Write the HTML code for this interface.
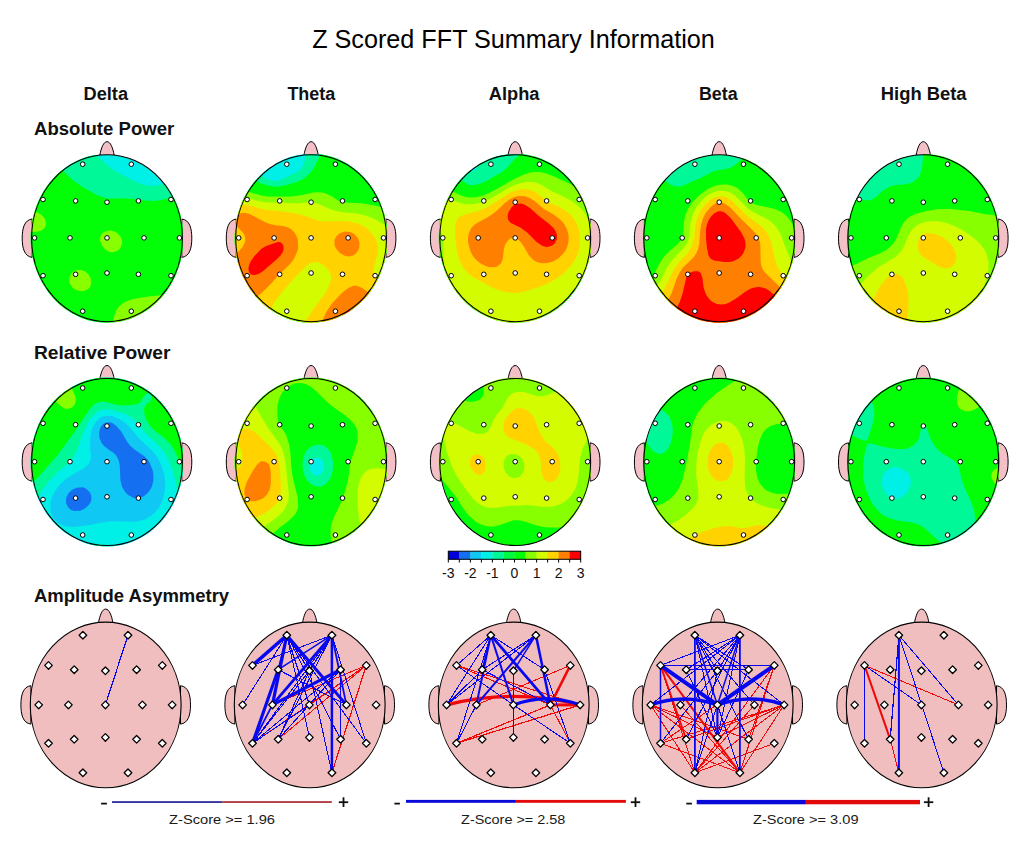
<!DOCTYPE html>
<html><head><meta charset="utf-8"><title>Z Scored FFT Summary Information</title>
<style>html,body{margin:0;padding:0;background:#fff;width:1031px;height:847px;overflow:hidden}svg{display:block}</style>
</head><body>
<svg width="1031" height="847" viewBox="0 0 1031 847">
<rect width="1031" height="847" fill="#fff"/>
<text x="312.2" y="47.6" font-family="Liberation Sans, sans-serif" font-size="25" textLength="402.6" lengthAdjust="spacingAndGlyphs" fill="#000">Z Scored FFT Summary Information</text>
<text x="83.5" y="99.8" font-family="Liberation Sans, sans-serif" font-weight="bold" font-size="18" textLength="44.5" lengthAdjust="spacingAndGlyphs" fill="#111">Delta</text>
<text x="287.4" y="99.8" font-family="Liberation Sans, sans-serif" font-weight="bold" font-size="18" textLength="47.9" lengthAdjust="spacingAndGlyphs" fill="#111">Theta</text>
<text x="488.8" y="99.8" font-family="Liberation Sans, sans-serif" font-weight="bold" font-size="18" textLength="50.7" lengthAdjust="spacingAndGlyphs" fill="#111">Alpha</text>
<text x="698.9" y="99.8" font-family="Liberation Sans, sans-serif" font-weight="bold" font-size="18" textLength="38.7" lengthAdjust="spacingAndGlyphs" fill="#111">Beta</text>
<text x="880.8" y="99.8" font-family="Liberation Sans, sans-serif" font-weight="bold" font-size="18" textLength="85.8" lengthAdjust="spacingAndGlyphs" fill="#111">High Beta</text>
<text x="34" y="135.2" font-family="Liberation Sans, sans-serif" font-weight="bold" font-size="18" textLength="140.2" lengthAdjust="spacingAndGlyphs" fill="#111">Absolute Power</text>
<text x="33.9" y="358.9" font-family="Liberation Sans, sans-serif" font-weight="bold" font-size="18" textLength="136.5" lengthAdjust="spacingAndGlyphs" fill="#111">Relative Power</text>
<text x="33.9" y="602.4" font-family="Liberation Sans, sans-serif" font-weight="bold" font-size="18" textLength="195.2" lengthAdjust="spacingAndGlyphs" fill="#111">Amplitude Asymmetry</text>
<path d="M99.7,155.7 C101.2,147.7 103.5,141.7 107.0,141.7 C110.5,141.7 112.8,147.7 114.3,155.7Z" fill="#f2c0c6" stroke="#000" stroke-width="1"/>
<path d="M32.2,219.0 C24.2,220.0 22.2,228.6 22.2,238.2 C22.2,247.8 24.2,256.4 32.2,257.4Z" fill="#f2c0c6" stroke="#000" stroke-width="1"/>
<path d="M181.8,219.0 C189.8,220.0 191.8,228.6 191.8,238.2 C191.8,247.8 189.8,256.4 181.8,257.4Z" fill="#f2c0c6" stroke="#000" stroke-width="1"/>
<ellipse cx="107.0" cy="238.2" rx="75.4" ry="83.5" fill="#00f0e8"/>
<path fill="#00f898" fill-rule="evenodd" d="M94.4,154.9 87.4,156.5 80.8,158.9 72.4,162.9 66.1,166.9 60.1,171.5 55.1,176.2 48.8,183.5 44.8,189.2 41.4,194.9 37.8,202.5 34.4,211.9 32.4,219.9 30.8,232.9 30.8,243.5 31.1,243.9 31.4,250.5 34.4,264.5 37.8,273.9 41.4,281.5 48.8,292.9 55.1,300.2 60.1,304.9 66.1,309.5 72.4,313.5 80.8,317.5 87.4,319.9 94.4,321.5 102.4,322.5 115.1,322.2 122.8,320.9 132.4,317.9 142.8,312.9 149.8,308.2 155.4,303.5 160.8,298.2 167.4,289.9 172.8,281.2 176.1,274.2 179.8,263.9 181.4,257.2 183.1,245.5 182.8,227.5 181.8,220.9 179.8,212.5 176.1,202.2 171.4,192.9 165.1,183.5 157.8,185.5 149.4,185.9 143.1,184.5 136.8,182.2 124.1,175.9 113.8,169.9 105.8,163.9 96.4,155.2Z"/>
<path fill="#02ff08" fill-rule="evenodd" d="M61.8,170.2 56.4,174.9 51.8,179.9 46.1,187.2 42.8,192.5 38.8,200.2 36.4,205.9 32.4,219.9 30.8,232.9 30.8,243.5 31.8,252.9 33.8,262.2 36.4,270.5 41.4,281.5 48.8,292.9 55.1,300.2 60.1,304.9 66.1,309.5 72.4,313.5 82.4,318.2 87.4,319.9 96.4,321.9 102.4,322.5 111.8,322.5 119.4,321.5 125.4,320.2 132.4,317.9 139.8,314.5 147.4,309.9 153.1,305.5 160.8,298.2 164.4,293.9 169.4,286.9 172.8,281.2 176.1,274.2 179.8,263.9 181.4,257.2 182.8,248.9 183.1,230.9 181.8,220.9 179.8,212.5 177.4,205.5 173.8,197.5 170.1,197.9 160.1,200.2 153.4,200.9 145.4,200.5 137.8,199.2 126.4,198.5 126.1,198.2 108.8,198.5 104.8,197.9 96.8,194.9 81.8,186.5 72.8,180.2 63.1,170.9Z"/>
<path fill="#88ff00" fill-rule="evenodd" d="M163.4,294.9 150.4,296.2 137.1,298.2 131.1,299.5 124.4,302.2 121.4,304.2 118.4,307.2 116.4,310.2 114.8,313.9 112.4,322.2 117.4,321.9 125.4,320.2 132.4,317.9 139.8,314.5 151.1,307.2 155.4,303.5 160.8,298.2ZM73.4,271.5 70.8,274.2 69.4,277.5 69.4,282.2 71.4,286.5 74.4,289.2 78.8,290.9 83.8,290.9 87.8,289.2 89.8,287.2 91.1,284.2 90.8,278.5 88.1,273.9 84.8,271.2 81.1,269.9 77.4,269.9ZM105.8,231.2 102.4,233.2 100.8,235.5 100.1,237.5 100.1,240.9 102.1,245.9 105.8,249.9 109.8,251.9 113.4,252.2 117.8,250.5 120.4,247.9 122.1,243.5 122.1,240.5 120.8,236.9 117.4,233.2 114.4,231.5 110.4,230.5ZM35.4,211.5 34.4,211.9 32.4,219.9 31.4,225.9 31.1,231.9 38.1,231.5 41.4,230.5 44.4,228.2 45.8,225.2 45.8,221.9 45.1,219.5 43.8,217.2 40.8,214.2Z"/>
<ellipse cx="107.0" cy="238.2" rx="75.4" ry="83.5" fill="none" stroke="#000" stroke-width="1.1"/>
<circle cx="82.7" cy="164.2" r="2.3" fill="#fff" stroke="#000" stroke-width="1"/>
<circle cx="131.3" cy="164.2" r="2.3" fill="#fff" stroke="#000" stroke-width="1"/>
<circle cx="43.0" cy="199.5" r="2.3" fill="#fff" stroke="#000" stroke-width="1"/>
<circle cx="75.6" cy="200.9" r="2.3" fill="#fff" stroke="#000" stroke-width="1"/>
<circle cx="107.0" cy="202.2" r="2.3" fill="#fff" stroke="#000" stroke-width="1"/>
<circle cx="138.4" cy="200.9" r="2.3" fill="#fff" stroke="#000" stroke-width="1"/>
<circle cx="171.0" cy="199.5" r="2.3" fill="#fff" stroke="#000" stroke-width="1"/>
<circle cx="34.6" cy="237.9" r="2.3" fill="#fff" stroke="#000" stroke-width="1"/>
<circle cx="70.0" cy="237.9" r="2.3" fill="#fff" stroke="#000" stroke-width="1"/>
<circle cx="107.0" cy="237.9" r="2.3" fill="#fff" stroke="#000" stroke-width="1"/>
<circle cx="144.0" cy="237.9" r="2.3" fill="#fff" stroke="#000" stroke-width="1"/>
<circle cx="179.4" cy="237.9" r="2.3" fill="#fff" stroke="#000" stroke-width="1"/>
<circle cx="43.0" cy="275.7" r="2.3" fill="#fff" stroke="#000" stroke-width="1"/>
<circle cx="75.6" cy="274.3" r="2.3" fill="#fff" stroke="#000" stroke-width="1"/>
<circle cx="107.0" cy="273.0" r="2.3" fill="#fff" stroke="#000" stroke-width="1"/>
<circle cx="138.4" cy="274.3" r="2.3" fill="#fff" stroke="#000" stroke-width="1"/>
<circle cx="171.0" cy="275.7" r="2.3" fill="#fff" stroke="#000" stroke-width="1"/>
<circle cx="82.7" cy="311.2" r="2.3" fill="#fff" stroke="#000" stroke-width="1"/>
<circle cx="131.3" cy="311.2" r="2.3" fill="#fff" stroke="#000" stroke-width="1"/>
<path d="M303.8,155.7 C305.3,147.7 307.6,141.7 311.1,141.7 C314.6,141.7 316.9,147.7 318.4,155.7Z" fill="#f2c0c6" stroke="#000" stroke-width="1"/>
<path d="M236.3,219.0 C228.3,220.0 226.3,228.6 226.3,238.2 C226.3,247.8 228.3,256.4 236.3,257.4Z" fill="#f2c0c6" stroke="#000" stroke-width="1"/>
<path d="M385.9,219.0 C393.9,220.0 395.9,228.6 395.9,238.2 C395.9,247.8 393.9,256.4 385.9,257.4Z" fill="#f2c0c6" stroke="#000" stroke-width="1"/>
<ellipse cx="311.1" cy="238.2" rx="75.4" ry="83.5" fill="#10c8f4"/>
<path fill="#00f0e8" fill-rule="evenodd" d="M306.5,153.9 298.5,154.9 291.5,156.5 284.8,158.9 276.5,162.9 275.2,163.9 274.5,165.9 272.8,167.2 270.2,166.9 264.2,171.5 259.2,176.2 252.8,183.5 245.5,194.9 241.8,202.5 238.5,211.9 235.5,225.9 235.2,232.5 234.8,232.9 234.8,243.5 235.8,252.9 237.2,259.5 240.5,270.5 242.8,276.2 250.2,289.2 255.8,296.5 260.5,301.5 267.8,307.9 273.2,311.5 286.5,318.2 291.5,319.9 300.5,321.9 306.5,322.5 315.8,322.5 323.5,321.5 329.5,320.2 336.5,317.9 343.8,314.5 351.5,309.9 357.2,305.5 364.8,298.2 368.5,293.9 373.5,286.9 376.8,281.2 380.2,274.2 383.8,263.9 385.5,257.2 386.8,248.9 387.2,230.9 385.8,220.9 383.8,212.5 378.8,199.2 371.5,186.5 364.8,178.2 359.5,172.9 353.8,168.2 346.8,163.5 336.5,158.5 329.5,156.2 321.5,154.5 315.8,153.9Z"/>
<path fill="#00f898" fill-rule="evenodd" d="M306.8,153.9 304.2,162.9 302.2,167.2 300.5,169.5 297.5,172.2 289.8,175.2 281.2,179.9 277.5,180.9 273.5,180.9 268.8,179.5 264.5,177.5 260.5,174.9 254.2,181.9 250.2,187.2 245.5,194.9 241.8,202.5 238.5,211.9 235.5,225.9 235.2,232.5 234.8,232.9 234.8,243.5 235.8,252.9 237.2,259.5 240.5,270.5 242.8,276.2 250.2,289.2 255.8,296.5 260.5,301.5 267.8,307.9 273.2,311.5 286.5,318.2 291.5,319.9 300.5,321.9 306.5,322.5 315.8,322.5 323.5,321.5 329.5,320.2 336.5,317.9 343.8,314.5 351.5,309.9 357.2,305.5 364.8,298.2 368.5,293.9 373.5,286.9 376.8,281.2 380.2,274.2 383.8,263.9 385.5,257.2 386.8,248.9 387.2,230.9 385.8,220.9 383.8,212.5 378.8,199.2 371.5,186.5 364.8,178.2 359.5,172.9 353.8,168.2 346.8,163.5 336.5,158.5 329.5,156.2 321.5,154.5 315.8,153.9Z"/>
<path fill="#02ff08" fill-rule="evenodd" d="M321.5,154.5 320.2,154.9 314.8,166.2 310.8,172.2 304.2,178.2 296.8,181.9 282.8,185.9 277.8,186.5 273.5,186.5 267.5,185.5 260.8,183.2 255.5,180.5 248.8,189.2 242.8,200.2 238.5,211.9 235.5,225.9 235.2,232.5 234.8,232.9 234.8,243.5 235.8,252.9 237.2,259.5 240.5,270.5 242.8,276.2 250.2,289.2 255.8,296.5 260.5,301.5 267.8,307.9 273.2,311.5 286.5,318.2 296.8,321.2 302.8,322.2 315.8,322.5 323.5,321.5 329.5,320.2 336.5,317.9 343.8,314.5 351.5,309.9 359.5,303.5 368.5,293.9 373.5,286.9 376.8,281.2 380.2,274.2 383.8,263.9 385.5,257.2 386.8,248.9 387.2,230.9 385.5,219.2 383.8,212.5 380.2,202.2 376.8,195.2 371.5,186.5 364.8,178.2 359.5,172.9 349.5,165.2 343.8,161.9 336.5,158.5 329.5,156.2Z"/>
<path fill="#88ff00" fill-rule="evenodd" d="M247.5,191.5 242.8,200.2 240.5,205.9 236.5,219.9 234.8,232.9 234.8,243.5 235.2,243.9 235.5,250.5 237.8,262.2 242.8,276.2 250.2,289.2 255.8,296.5 260.5,301.5 267.8,307.9 273.2,311.5 286.5,318.2 291.5,319.9 300.5,321.9 306.5,322.5 315.8,322.5 323.5,321.5 329.5,320.2 341.8,315.5 346.8,312.9 355.2,307.2 364.8,298.2 371.5,289.9 378.8,277.2 383.8,263.9 385.8,255.5 387.2,245.5 387.2,230.9 385.5,219.2 383.8,212.5 381.8,207.2 373.5,205.2 361.8,203.2 342.8,202.5 337.5,200.2 331.2,195.9 327.2,193.9 322.5,192.5 319.2,192.5 318.8,192.2 313.2,192.5 300.8,195.2 290.2,196.5 267.5,196.5 261.5,195.5Z"/>
<path fill="#d4fc00" fill-rule="evenodd" d="M243.8,198.2 240.5,205.9 238.5,211.9 235.5,225.9 235.2,232.5 234.8,232.9 234.8,243.5 236.5,256.5 238.5,264.5 241.8,273.9 245.5,281.5 248.8,287.2 252.8,292.9 259.2,300.2 267.8,307.9 276.5,313.5 282.5,316.5 291.5,319.9 296.8,321.2 306.5,322.5 315.8,322.5 323.5,321.5 329.5,320.2 336.5,317.9 343.8,314.5 349.5,311.2 359.5,303.5 364.8,298.2 371.5,289.9 376.8,281.2 380.2,274.2 383.8,263.9 385.8,255.5 387.2,245.5 387.2,230.9 386.5,226.2 383.8,224.2 374.5,218.9 364.8,215.2 355.2,213.2 344.8,212.5 338.2,211.5 331.2,209.5 319.2,204.2 313.5,202.5 309.8,202.2 296.8,203.5 287.2,203.2 283.5,202.5 267.5,202.5 260.8,201.5 245.5,197.9Z"/>
<path fill="#ffd200" fill-rule="evenodd" d="M241.2,204.5 237.2,216.9 235.8,223.5 234.8,232.9 235.2,247.5 237.8,262.2 242.8,276.2 250.2,289.2 259.2,300.2 264.2,304.9 270.2,309.5 270.8,309.2 274.5,301.9 279.5,294.9 292.5,279.9 306.2,265.9 309.5,263.5 313.8,261.9 318.2,262.2 323.8,265.2 329.2,270.9 330.8,274.5 331.2,278.9 329.5,284.9 325.2,293.2 313.5,308.9 304.5,322.2 315.8,322.5 323.5,321.5 329.5,320.2 336.5,317.9 343.8,314.5 351.5,309.9 359.5,303.5 367.2,295.5 373.5,286.9 378.2,278.5 375.2,276.2 373.8,273.2 373.8,268.2 377.8,253.2 377.8,245.5 376.2,239.9 373.5,235.2 367.8,229.2 364.2,226.5 358.8,223.9 351.8,221.9 346.2,221.2 334.5,221.2 334.2,221.5 320.8,221.2 316.5,220.2 310.2,217.5 300.2,214.5 281.8,211.2 266.2,209.9 249.8,205.5 243.8,204.5Z"/>
<path fill="#ff8000" fill-rule="evenodd" d="M369.2,292.9 362.2,287.9 357.5,285.9 355.5,285.5 352.8,285.9 348.2,287.9 341.5,293.2 332.2,303.2 327.2,310.5 321.8,321.5 326.8,320.9 336.5,317.9 346.8,312.9 353.8,308.2 359.5,303.5 364.8,298.2ZM340.5,232.9 338.8,233.9 335.8,236.9 334.5,239.9 334.5,244.9 335.8,248.2 339.8,252.9 345.2,255.9 349.5,256.5 353.8,255.2 356.8,252.5 359.2,247.9 359.5,242.5 357.8,237.9 354.2,233.9 350.2,231.9 344.8,231.5ZM242.2,212.9 239.8,213.5 237.8,214.9 235.8,224.2 237.5,226.9 243.5,233.2 245.2,237.2 245.2,240.9 244.5,243.2 242.2,247.5 236.2,254.2 238.5,264.5 242.8,276.2 248.8,287.2 256.5,297.2 263.2,291.5 271.2,283.5 278.2,275.5 289.8,264.2 292.5,260.9 294.8,257.2 297.5,250.9 298.2,247.9 297.8,239.5 296.8,236.5 294.8,232.9 291.5,229.5 288.2,227.5 282.8,225.9 275.8,225.2 269.8,223.9 264.8,221.9 249.5,213.9 245.8,212.9Z"/>
<path fill="#ff0000" fill-rule="evenodd" d="M351.5,309.9 347.5,311.2 344.5,313.2 342.5,315.2ZM282.5,243.9 280.5,242.2 277.8,241.9 265.5,246.2 261.2,248.9 254.5,255.9 251.2,260.5 249.5,263.9 248.5,267.5 248.5,270.5 249.5,272.9 250.8,274.2 252.8,274.9 255.2,274.9 258.5,273.9 263.2,270.9 276.5,259.5 280.5,255.5 282.8,251.9 283.5,249.9 283.5,245.9Z"/>
<ellipse cx="311.1" cy="238.2" rx="75.4" ry="83.5" fill="none" stroke="#000" stroke-width="1.1"/>
<circle cx="286.8" cy="164.2" r="2.3" fill="#fff" stroke="#000" stroke-width="1"/>
<circle cx="335.4" cy="164.2" r="2.3" fill="#fff" stroke="#000" stroke-width="1"/>
<circle cx="247.1" cy="199.5" r="2.3" fill="#fff" stroke="#000" stroke-width="1"/>
<circle cx="279.7" cy="200.9" r="2.3" fill="#fff" stroke="#000" stroke-width="1"/>
<circle cx="311.1" cy="202.2" r="2.3" fill="#fff" stroke="#000" stroke-width="1"/>
<circle cx="342.5" cy="200.9" r="2.3" fill="#fff" stroke="#000" stroke-width="1"/>
<circle cx="375.1" cy="199.5" r="2.3" fill="#fff" stroke="#000" stroke-width="1"/>
<circle cx="238.7" cy="237.9" r="2.3" fill="#fff" stroke="#000" stroke-width="1"/>
<circle cx="274.1" cy="237.9" r="2.3" fill="#fff" stroke="#000" stroke-width="1"/>
<circle cx="311.1" cy="237.9" r="2.3" fill="#fff" stroke="#000" stroke-width="1"/>
<circle cx="348.1" cy="237.9" r="2.3" fill="#fff" stroke="#000" stroke-width="1"/>
<circle cx="383.5" cy="237.9" r="2.3" fill="#fff" stroke="#000" stroke-width="1"/>
<circle cx="247.1" cy="275.7" r="2.3" fill="#fff" stroke="#000" stroke-width="1"/>
<circle cx="279.7" cy="274.3" r="2.3" fill="#fff" stroke="#000" stroke-width="1"/>
<circle cx="311.1" cy="273.0" r="2.3" fill="#fff" stroke="#000" stroke-width="1"/>
<circle cx="342.5" cy="274.3" r="2.3" fill="#fff" stroke="#000" stroke-width="1"/>
<circle cx="375.1" cy="275.7" r="2.3" fill="#fff" stroke="#000" stroke-width="1"/>
<circle cx="286.8" cy="311.2" r="2.3" fill="#fff" stroke="#000" stroke-width="1"/>
<circle cx="335.4" cy="311.2" r="2.3" fill="#fff" stroke="#000" stroke-width="1"/>
<path d="M507.9,155.7 C509.4,147.7 511.7,141.7 515.2,141.7 C518.7,141.7 521.0,147.7 522.5,155.7Z" fill="#f2c0c6" stroke="#000" stroke-width="1"/>
<path d="M440.4,219.0 C432.4,220.0 430.4,228.6 430.4,238.2 C430.4,247.8 432.4,256.4 440.4,257.4Z" fill="#f2c0c6" stroke="#000" stroke-width="1"/>
<path d="M590.0,219.0 C598.0,220.0 600.0,228.6 600.0,238.2 C600.0,247.8 598.0,256.4 590.0,257.4Z" fill="#f2c0c6" stroke="#000" stroke-width="1"/>
<ellipse cx="515.2" cy="238.2" rx="75.4" ry="83.5" fill="#00f0e8"/>
<path fill="#00f898" fill-rule="evenodd" d="M510.6,153.9 502.6,154.9 495.6,156.5 488.9,158.9 480.6,162.9 477.9,164.9 477.6,167.5 475.9,169.9 473.6,170.9 472.3,170.9 470.3,169.9 463.3,176.2 456.9,183.5 449.6,194.9 445.9,202.5 442.6,211.9 439.6,225.9 439.3,232.5 438.9,232.9 438.9,243.5 439.9,252.9 441.3,259.5 444.6,270.5 446.9,276.2 454.3,289.2 459.9,296.5 464.6,301.5 471.9,307.9 477.3,311.5 490.6,318.2 495.6,319.9 504.6,321.9 510.6,322.5 519.9,322.5 527.6,321.5 533.6,320.2 540.6,317.9 547.9,314.5 555.6,309.9 561.3,305.5 568.9,298.2 572.6,293.9 577.6,286.9 580.9,281.2 584.3,274.2 587.9,263.9 589.6,257.2 590.9,248.9 591.3,230.9 589.9,220.9 587.9,212.5 582.9,199.2 575.6,186.5 568.9,178.2 563.6,172.9 557.9,168.2 550.9,163.5 540.6,158.5 533.6,156.2 525.6,154.5 519.9,153.9Z"/>
<path fill="#02ff08" fill-rule="evenodd" d="M523.3,154.2 519.9,154.2 514.3,159.2 508.6,165.9 502.9,171.5 496.6,174.9 487.6,180.5 483.9,182.2 475.6,184.9 471.3,185.2 469.3,184.9 466.3,183.5 460.3,179.5 452.9,189.2 449.6,194.9 445.9,202.5 441.3,216.9 439.9,223.5 438.9,232.9 438.9,243.5 439.3,243.9 439.6,250.5 442.6,264.5 445.9,273.9 449.6,281.5 456.9,292.9 463.3,300.2 468.3,304.9 474.3,309.5 480.6,313.5 488.9,317.5 495.6,319.9 502.6,321.5 510.6,322.5 519.9,322.5 525.6,321.9 533.6,320.2 540.6,317.9 550.9,312.9 557.9,308.2 563.6,303.5 568.9,298.2 575.6,289.9 582.9,277.2 587.9,263.9 589.9,255.5 591.3,245.5 590.9,227.5 589.9,220.9 587.9,212.5 582.9,199.2 575.6,186.5 568.9,178.2 563.6,172.9 557.9,168.2 550.9,163.5 540.6,158.5 533.6,156.2Z"/>
<path fill="#88ff00" fill-rule="evenodd" d="M545.6,173.2 541.3,172.2 535.3,171.9 530.3,172.5 525.3,173.9 514.9,178.5 495.9,189.5 488.6,193.2 481.6,195.9 476.3,197.2 469.6,197.5 465.6,196.9 459.9,194.9 451.9,191.2 449.6,194.9 444.6,205.9 441.9,214.2 439.9,223.5 438.9,232.9 438.9,243.5 439.9,252.9 441.3,259.5 445.9,273.9 449.6,281.5 454.3,289.2 459.9,296.5 464.6,301.5 471.9,307.9 477.3,311.5 490.6,318.2 495.6,319.9 504.6,321.9 510.6,322.5 519.9,322.5 527.6,321.5 533.6,320.2 545.9,315.5 550.9,312.9 559.3,307.2 568.9,298.2 577.6,286.9 580.9,281.2 585.6,270.9 587.9,263.9 590.6,251.5 591.3,245.5 591.3,230.9 589.6,219.2 587.9,212.5 584.3,202.2 579.6,192.9 576.3,187.5 574.9,186.2 555.3,176.9Z"/>
<path fill="#d4fc00" fill-rule="evenodd" d="M535.6,182.5 531.9,181.9 526.3,181.9 516.6,184.2 507.9,188.2 495.3,195.9 487.9,199.5 478.9,202.9 474.6,203.9 465.9,204.2 460.9,203.2 451.3,199.5 447.3,199.9 444.6,205.9 442.6,211.9 439.9,223.5 439.6,228.9 441.6,233.2 443.3,239.2 443.6,261.2 444.9,269.5 446.9,276.2 454.3,289.2 459.9,296.5 464.3,300.9 470.6,306.2 479.6,312.5 486.6,316.5 495.6,319.9 502.6,321.5 510.6,322.5 523.3,322.2 530.9,320.9 538.6,318.5 546.9,314.2 552.9,310.2 561.6,303.2 572.6,291.5 576.9,285.9 583.3,276.2 587.9,263.9 589.6,257.2 590.9,248.9 591.3,230.9 590.6,224.9 589.9,222.9 585.3,213.9 581.9,209.5 577.9,205.5 572.3,201.2 562.3,195.9 551.6,191.2 541.6,184.9Z"/>
<path fill="#ffd200" fill-rule="evenodd" d="M525.9,189.2 519.6,189.5 511.3,192.2 505.3,195.5 495.3,202.5 485.6,207.9 478.3,210.9 465.6,214.2 459.9,216.5 457.3,219.2 455.6,223.5 455.3,234.9 456.9,251.2 459.3,259.9 463.6,268.2 469.6,274.5 473.9,277.5 494.3,288.5 502.9,291.5 512.6,292.9 518.9,292.5 524.6,291.5 538.3,287.2 546.3,283.9 554.9,279.5 562.3,274.5 570.3,266.5 575.3,259.2 577.9,253.2 579.3,248.5 579.9,244.2 579.9,235.5 579.3,231.5 577.6,225.9 575.3,221.2 571.9,216.5 568.3,212.9 563.3,209.2 556.3,205.5 548.3,202.2 535.9,192.5 531.9,190.5Z"/>
<path fill="#ff8000" fill-rule="evenodd" d="M566.9,228.9 563.9,223.5 559.6,218.9 553.6,214.5 543.9,208.9 533.9,200.5 529.6,197.9 524.9,196.2 518.9,195.9 513.6,197.2 510.3,198.9 504.9,202.9 497.6,209.9 491.9,214.5 485.6,218.5 478.3,222.2 473.9,225.2 470.9,228.5 468.6,233.9 467.9,239.2 468.3,243.5 470.3,250.9 472.9,255.9 475.3,258.9 478.9,262.2 481.9,264.2 488.3,266.9 489.9,267.2 495.9,266.9 498.6,265.5 500.9,263.2 502.3,260.5 502.9,257.9 503.6,251.2 504.9,245.2 506.6,241.9 509.6,238.9 512.9,237.5 514.9,237.5 516.9,238.5 520.3,241.5 523.9,246.5 528.6,254.9 533.3,259.9 536.9,261.9 540.3,262.9 543.3,263.2 547.9,262.9 553.6,261.2 558.6,258.2 563.3,253.5 565.6,250.2 567.3,246.5 568.6,241.2 568.6,235.2Z"/>
<path fill="#ff0000" fill-rule="evenodd" d="M511.3,207.5 508.6,211.9 507.6,215.2 507.9,219.2 508.6,220.5 510.9,222.9 520.3,227.5 526.9,232.2 536.6,241.9 542.6,245.9 546.9,246.9 549.6,246.5 552.6,245.2 554.9,243.2 556.9,238.9 556.9,234.9 556.3,232.5 553.9,228.5 549.3,223.9 538.3,215.5 530.3,208.2 526.9,205.9 523.6,204.2 520.9,203.5 515.9,203.9 513.6,205.2Z"/>
<ellipse cx="515.2" cy="238.2" rx="75.4" ry="83.5" fill="none" stroke="#000" stroke-width="1.1"/>
<circle cx="490.9" cy="164.2" r="2.3" fill="#fff" stroke="#000" stroke-width="1"/>
<circle cx="539.5" cy="164.2" r="2.3" fill="#fff" stroke="#000" stroke-width="1"/>
<circle cx="451.2" cy="199.5" r="2.3" fill="#fff" stroke="#000" stroke-width="1"/>
<circle cx="483.8" cy="200.9" r="2.3" fill="#fff" stroke="#000" stroke-width="1"/>
<circle cx="515.2" cy="202.2" r="2.3" fill="#fff" stroke="#000" stroke-width="1"/>
<circle cx="546.6" cy="200.9" r="2.3" fill="#fff" stroke="#000" stroke-width="1"/>
<circle cx="579.2" cy="199.5" r="2.3" fill="#fff" stroke="#000" stroke-width="1"/>
<circle cx="442.8" cy="237.9" r="2.3" fill="#fff" stroke="#000" stroke-width="1"/>
<circle cx="478.2" cy="237.9" r="2.3" fill="#fff" stroke="#000" stroke-width="1"/>
<circle cx="515.2" cy="237.9" r="2.3" fill="#fff" stroke="#000" stroke-width="1"/>
<circle cx="552.2" cy="237.9" r="2.3" fill="#fff" stroke="#000" stroke-width="1"/>
<circle cx="587.6" cy="237.9" r="2.3" fill="#fff" stroke="#000" stroke-width="1"/>
<circle cx="451.2" cy="275.7" r="2.3" fill="#fff" stroke="#000" stroke-width="1"/>
<circle cx="483.8" cy="274.3" r="2.3" fill="#fff" stroke="#000" stroke-width="1"/>
<circle cx="515.2" cy="273.0" r="2.3" fill="#fff" stroke="#000" stroke-width="1"/>
<circle cx="546.6" cy="274.3" r="2.3" fill="#fff" stroke="#000" stroke-width="1"/>
<circle cx="579.2" cy="275.7" r="2.3" fill="#fff" stroke="#000" stroke-width="1"/>
<circle cx="490.9" cy="311.2" r="2.3" fill="#fff" stroke="#000" stroke-width="1"/>
<circle cx="539.5" cy="311.2" r="2.3" fill="#fff" stroke="#000" stroke-width="1"/>
<path d="M711.9,155.7 C713.4,147.7 715.7,141.7 719.2,141.7 C722.7,141.7 725.0,147.7 726.5,155.7Z" fill="#f2c0c6" stroke="#000" stroke-width="1"/>
<path d="M644.4,219.0 C636.4,220.0 634.4,228.6 634.4,238.2 C634.4,247.8 636.4,256.4 644.4,257.4Z" fill="#f2c0c6" stroke="#000" stroke-width="1"/>
<path d="M794.0,219.0 C802.0,220.0 804.0,228.6 804.0,238.2 C804.0,247.8 802.0,256.4 794.0,257.4Z" fill="#f2c0c6" stroke="#000" stroke-width="1"/>
<ellipse cx="719.2" cy="238.2" rx="75.4" ry="83.5" fill="#00f898"/>
<path fill="#02ff08" fill-rule="evenodd" d="M743.7,158.2 741.7,158.9 735.0,164.9 730.0,167.9 725.0,169.2 717.3,170.2 711.7,171.9 700.0,178.5 692.0,181.5 682.7,185.9 679.7,186.5 674.3,186.2 669.7,184.2 664.0,180.2 658.3,187.2 653.7,194.9 648.7,205.9 646.0,214.2 644.0,223.5 643.0,232.9 643.0,243.5 643.3,243.9 643.7,250.5 646.7,264.5 650.0,273.9 653.7,281.5 661.0,292.9 667.3,300.2 672.3,304.9 678.3,309.5 684.7,313.5 693.0,317.5 699.7,319.9 706.7,321.5 714.7,322.5 727.3,322.2 735.0,320.9 744.7,317.9 755.0,312.9 762.0,308.2 767.7,303.5 776.7,293.9 781.7,286.9 785.0,281.2 788.3,274.2 792.0,263.9 793.7,257.2 795.0,248.9 795.3,230.9 794.0,220.9 792.0,212.5 787.0,199.2 779.7,186.5 773.0,178.2 767.7,172.9 762.0,168.2 755.0,163.5Z"/>
<path fill="#88ff00" fill-rule="evenodd" d="M726.3,184.5 722.0,184.5 717.3,185.2 713.0,186.5 708.7,188.5 700.7,193.9 693.0,201.5 688.3,208.2 685.0,215.9 683.7,223.2 683.3,234.2 682.7,237.5 681.7,239.5 677.7,244.2 670.0,250.5 665.0,255.5 661.7,259.9 658.7,264.9 655.3,271.9 651.7,276.9 655.0,283.9 661.0,292.9 667.3,300.2 676.0,307.9 684.7,313.5 693.0,317.5 699.7,319.9 711.0,322.2 724.0,322.5 731.7,321.5 737.7,320.2 744.7,317.9 752.0,314.5 759.7,309.9 767.7,303.5 776.7,293.9 781.7,286.9 785.0,281.2 788.3,274.2 792.0,263.9 793.7,257.2 795.3,245.5 795.0,228.5 789.7,219.9 786.0,215.5 782.0,212.2 775.0,208.9 757.7,205.2 751.7,202.9 747.3,198.9 743.7,193.9 737.7,188.2 735.3,186.9 730.7,185.2Z"/>
<path fill="#d4fc00" fill-rule="evenodd" d="M722.7,190.5 718.0,190.9 715.3,191.5 710.0,193.9 704.0,198.2 697.7,205.2 693.3,212.9 691.7,217.5 690.3,223.9 689.0,237.5 686.7,243.9 683.7,248.2 675.3,256.5 670.0,262.9 666.7,268.2 660.7,280.2 656.7,285.9 657.0,287.2 660.0,291.5 667.3,300.2 674.3,306.5 681.3,311.5 690.7,316.5 699.7,319.9 706.7,321.5 714.7,322.5 727.3,322.2 737.7,320.2 744.7,317.9 752.0,314.5 763.3,307.2 773.0,298.2 781.7,286.9 785.0,281.2 788.3,274.2 792.3,262.5 792.3,261.5 791.0,259.9 788.0,253.9 780.3,233.5 775.7,226.2 771.7,222.2 768.0,219.5 754.0,212.5 748.3,208.9 734.3,194.9 729.0,191.9Z"/>
<path fill="#ffd200" fill-rule="evenodd" d="M721.3,196.2 716.3,196.9 711.3,199.2 709.0,200.9 704.0,205.9 701.3,209.5 698.7,214.5 697.0,219.2 695.7,225.2 694.3,237.9 692.0,246.2 687.7,253.2 679.7,261.5 674.3,268.5 664.3,289.2 661.7,293.5 667.3,300.2 672.3,304.9 678.3,309.5 684.7,313.5 693.0,317.5 699.7,319.9 706.7,321.5 714.7,322.5 724.0,322.5 735.0,320.9 744.7,317.9 755.0,312.9 763.3,307.2 773.0,298.2 779.7,289.9 786.3,278.5 781.7,274.2 777.3,266.5 774.7,258.2 771.3,242.2 767.7,233.9 765.3,230.5 760.3,225.5 746.3,215.2 731.7,200.5 726.7,197.5Z"/>
<path fill="#ff8000" fill-rule="evenodd" d="M720.0,202.2 716.0,203.2 712.7,205.2 709.7,207.9 705.3,213.5 703.0,218.2 701.0,224.9 700.0,232.2 699.3,243.2 698.0,249.2 696.7,252.5 693.7,257.2 683.0,267.5 679.3,272.9 676.3,279.5 671.7,292.9 668.0,300.5 672.3,304.9 678.3,309.5 684.7,313.5 690.7,316.5 699.7,319.9 706.7,321.5 714.7,322.5 724.0,322.5 735.0,320.9 744.7,317.9 752.0,314.5 759.7,309.9 767.7,303.5 775.3,295.5 781.0,287.9 766.0,273.5 763.3,270.2 761.7,266.9 760.7,262.2 760.3,243.9 759.0,238.9 757.0,235.2 753.0,230.5 738.7,216.5 729.7,206.9 724.0,203.2Z"/>
<path fill="#ff0000" fill-rule="evenodd" d="M676.7,308.2 684.7,313.5 693.0,317.5 699.7,319.9 706.7,321.5 714.7,322.5 727.3,322.2 735.0,320.9 744.7,317.9 755.0,312.9 762.0,308.2 767.7,303.5 773.0,298.2 775.0,295.5 769.7,290.9 765.3,288.2 759.7,286.9 755.7,287.2 751.0,288.5 746.3,290.9 736.0,298.5 729.3,302.5 725.7,303.9 721.3,304.5 716.7,303.9 713.0,302.2 710.0,299.9 706.0,294.5 703.7,287.9 702.3,277.2 700.7,272.9 698.3,271.2 694.0,271.2 691.7,271.9 688.7,273.5 687.7,274.5 686.3,277.2 682.7,293.2 679.7,301.9ZM718.3,211.2 714.3,213.2 711.0,216.5 709.0,219.5 706.7,225.2 706.0,228.9 706.0,238.5 707.0,247.9 708.3,254.9 710.3,258.5 714.0,260.5 724.0,261.9 730.0,261.9 733.3,261.2 738.7,258.5 742.0,255.2 743.3,253.2 745.3,247.9 745.7,245.9 745.3,241.2 744.3,238.2 741.0,231.9 730.7,217.9 724.7,212.5 721.3,211.2Z"/>
<ellipse cx="719.2" cy="238.2" rx="75.4" ry="83.5" fill="none" stroke="#000" stroke-width="1.1"/>
<circle cx="694.9" cy="164.2" r="2.3" fill="#fff" stroke="#000" stroke-width="1"/>
<circle cx="743.5" cy="164.2" r="2.3" fill="#fff" stroke="#000" stroke-width="1"/>
<circle cx="655.2" cy="199.5" r="2.3" fill="#fff" stroke="#000" stroke-width="1"/>
<circle cx="687.8" cy="200.9" r="2.3" fill="#fff" stroke="#000" stroke-width="1"/>
<circle cx="719.2" cy="202.2" r="2.3" fill="#fff" stroke="#000" stroke-width="1"/>
<circle cx="750.6" cy="200.9" r="2.3" fill="#fff" stroke="#000" stroke-width="1"/>
<circle cx="783.2" cy="199.5" r="2.3" fill="#fff" stroke="#000" stroke-width="1"/>
<circle cx="646.8" cy="237.9" r="2.3" fill="#fff" stroke="#000" stroke-width="1"/>
<circle cx="682.2" cy="237.9" r="2.3" fill="#fff" stroke="#000" stroke-width="1"/>
<circle cx="719.2" cy="237.9" r="2.3" fill="#fff" stroke="#000" stroke-width="1"/>
<circle cx="756.2" cy="237.9" r="2.3" fill="#fff" stroke="#000" stroke-width="1"/>
<circle cx="791.6" cy="237.9" r="2.3" fill="#fff" stroke="#000" stroke-width="1"/>
<circle cx="655.2" cy="275.7" r="2.3" fill="#fff" stroke="#000" stroke-width="1"/>
<circle cx="687.8" cy="274.3" r="2.3" fill="#fff" stroke="#000" stroke-width="1"/>
<circle cx="719.2" cy="273.0" r="2.3" fill="#fff" stroke="#000" stroke-width="1"/>
<circle cx="750.6" cy="274.3" r="2.3" fill="#fff" stroke="#000" stroke-width="1"/>
<circle cx="783.2" cy="275.7" r="2.3" fill="#fff" stroke="#000" stroke-width="1"/>
<circle cx="694.9" cy="311.2" r="2.3" fill="#fff" stroke="#000" stroke-width="1"/>
<circle cx="743.5" cy="311.2" r="2.3" fill="#fff" stroke="#000" stroke-width="1"/>
<path d="M916.0,155.7 C917.5,147.7 919.8,141.7 923.3,141.7 C926.8,141.7 929.1,147.7 930.6,155.7Z" fill="#f2c0c6" stroke="#000" stroke-width="1"/>
<path d="M848.5,219.0 C840.5,220.0 838.5,228.6 838.5,238.2 C838.5,247.8 840.5,256.4 848.5,257.4Z" fill="#f2c0c6" stroke="#000" stroke-width="1"/>
<path d="M998.1,219.0 C1006.1,220.0 1008.1,228.6 1008.1,238.2 C1008.1,247.8 1006.1,256.4 998.1,257.4Z" fill="#f2c0c6" stroke="#000" stroke-width="1"/>
<ellipse cx="923.3" cy="238.2" rx="75.4" ry="83.5" fill="#00f898"/>
<path fill="#02ff08" fill-rule="evenodd" d="M928.1,153.9 923.4,153.9 923.1,154.2 922.4,164.9 921.1,171.5 918.8,176.9 914.1,181.5 909.4,183.5 905.8,184.2 895.8,184.9 889.8,186.5 883.1,190.5 875.4,197.5 870.8,199.9 867.1,200.5 859.4,199.5 855.4,199.9 852.8,205.9 850.1,214.2 848.1,223.5 847.1,232.9 847.1,243.5 847.4,243.9 847.8,250.5 850.8,264.5 854.1,273.9 857.8,281.5 865.1,292.9 871.4,300.2 876.4,304.9 882.4,309.5 888.8,313.5 897.1,317.5 903.8,319.9 910.8,321.5 918.8,322.5 928.1,322.5 933.8,321.9 941.8,320.2 948.8,317.9 959.1,312.9 966.1,308.2 971.8,303.5 977.1,298.2 983.8,289.9 991.1,277.2 996.1,263.9 998.1,255.5 999.4,245.5 999.1,227.5 998.1,220.9 996.1,212.5 992.4,202.2 989.1,195.2 985.8,189.5 980.8,182.5 977.1,178.2 969.4,170.9 963.8,166.5 956.1,161.9 948.8,158.5 941.8,156.2 935.8,154.9Z"/>
<path fill="#88ff00" fill-rule="evenodd" d="M996.4,215.5 984.1,213.9 969.4,210.9 950.4,208.9 936.4,209.2 925.8,211.2 915.4,213.9 908.4,217.5 904.1,221.9 900.4,228.5 897.4,236.5 895.4,240.5 890.8,246.5 884.8,250.9 877.8,254.2 868.4,257.9 851.4,266.2 852.8,270.5 855.1,276.2 861.1,287.2 865.1,292.9 871.4,300.2 876.4,304.9 882.4,309.5 888.8,313.5 894.8,316.5 903.8,319.9 910.8,321.5 918.8,322.5 928.1,322.5 933.8,321.9 941.8,320.2 948.8,317.9 959.1,312.9 966.1,308.2 971.8,303.5 977.1,298.2 983.8,289.9 991.1,277.2 996.1,263.9 998.1,255.5 999.4,245.5 999.4,230.9 998.1,220.9 997.1,216.5Z"/>
<path fill="#d4fc00" fill-rule="evenodd" d="M954.4,225.9 946.4,222.9 938.1,221.2 929.1,221.2 925.1,221.9 920.1,223.5 916.1,225.9 912.8,228.9 910.1,232.5 907.1,238.5 904.1,246.2 900.4,252.2 895.1,257.2 878.4,267.2 870.1,274.2 859.8,284.5 862.4,289.2 871.4,300.2 876.4,304.9 882.4,309.5 888.8,313.5 894.8,316.5 903.8,319.9 909.1,321.2 918.8,322.5 928.1,322.5 939.1,320.9 950.4,317.2 956.1,314.5 963.8,309.9 971.8,303.5 979.4,295.5 984.4,284.9 986.8,277.9 988.4,269.9 988.4,261.2 986.1,252.9 984.8,250.2 980.4,244.2 976.1,239.9 968.8,234.2 961.4,229.5Z"/>
<path fill="#ffd200" fill-rule="evenodd" d="M891.4,274.5 888.4,276.5 882.1,283.5 878.4,289.2 874.1,297.9 872.8,301.5 880.1,307.9 888.8,313.5 898.8,318.2 907.8,320.9 907.8,314.5 908.4,308.5 908.4,297.5 907.8,292.2 905.8,284.2 903.1,278.5 899.8,275.2 897.4,274.2 895.1,273.9ZM920.1,237.2 918.1,242.2 917.8,247.5 918.8,251.5 919.8,253.5 921.8,255.9 937.8,265.9 943.4,268.2 949.1,267.9 951.1,266.9 953.8,264.5 956.1,259.9 956.4,258.2 956.1,253.5 952.4,246.2 947.4,240.9 942.4,237.2 937.8,234.9 931.8,233.2 925.1,233.5 922.4,234.9Z"/>
<ellipse cx="923.3" cy="238.2" rx="75.4" ry="83.5" fill="none" stroke="#000" stroke-width="1.1"/>
<circle cx="899.0" cy="164.2" r="2.3" fill="#fff" stroke="#000" stroke-width="1"/>
<circle cx="947.6" cy="164.2" r="2.3" fill="#fff" stroke="#000" stroke-width="1"/>
<circle cx="859.3" cy="199.5" r="2.3" fill="#fff" stroke="#000" stroke-width="1"/>
<circle cx="891.9" cy="200.9" r="2.3" fill="#fff" stroke="#000" stroke-width="1"/>
<circle cx="923.3" cy="202.2" r="2.3" fill="#fff" stroke="#000" stroke-width="1"/>
<circle cx="954.7" cy="200.9" r="2.3" fill="#fff" stroke="#000" stroke-width="1"/>
<circle cx="987.3" cy="199.5" r="2.3" fill="#fff" stroke="#000" stroke-width="1"/>
<circle cx="850.9" cy="237.9" r="2.3" fill="#fff" stroke="#000" stroke-width="1"/>
<circle cx="886.3" cy="237.9" r="2.3" fill="#fff" stroke="#000" stroke-width="1"/>
<circle cx="923.3" cy="237.9" r="2.3" fill="#fff" stroke="#000" stroke-width="1"/>
<circle cx="960.3" cy="237.9" r="2.3" fill="#fff" stroke="#000" stroke-width="1"/>
<circle cx="995.7" cy="237.9" r="2.3" fill="#fff" stroke="#000" stroke-width="1"/>
<circle cx="859.3" cy="275.7" r="2.3" fill="#fff" stroke="#000" stroke-width="1"/>
<circle cx="891.9" cy="274.3" r="2.3" fill="#fff" stroke="#000" stroke-width="1"/>
<circle cx="923.3" cy="273.0" r="2.3" fill="#fff" stroke="#000" stroke-width="1"/>
<circle cx="954.7" cy="274.3" r="2.3" fill="#fff" stroke="#000" stroke-width="1"/>
<circle cx="987.3" cy="275.7" r="2.3" fill="#fff" stroke="#000" stroke-width="1"/>
<circle cx="899.0" cy="311.2" r="2.3" fill="#fff" stroke="#000" stroke-width="1"/>
<circle cx="947.6" cy="311.2" r="2.3" fill="#fff" stroke="#000" stroke-width="1"/>
<path d="M99.7,379.5 C101.2,371.5 103.5,365.5 107.0,365.5 C110.5,365.5 112.8,371.5 114.3,379.5Z" fill="#f2c0c6" stroke="#000" stroke-width="1"/>
<path d="M32.2,442.8 C24.2,443.8 22.2,452.4 22.2,462.0 C22.2,471.6 24.2,480.2 32.2,481.2Z" fill="#f2c0c6" stroke="#000" stroke-width="1"/>
<path d="M181.8,442.8 C189.8,443.8 191.8,452.4 191.8,462.0 C191.8,471.6 189.8,480.2 181.8,481.2Z" fill="#f2c0c6" stroke="#000" stroke-width="1"/>
<ellipse cx="107.0" cy="462.0" rx="75.4" ry="83.5" fill="#1470f0"/>
<path fill="#10c8f4" fill-rule="evenodd" d="M102.4,377.7 94.4,378.7 87.4,380.3 80.8,382.7 72.4,386.7 66.1,390.7 60.1,395.3 55.1,400.0 48.8,407.3 41.4,418.7 37.8,426.3 34.4,435.7 31.4,449.7 31.1,456.3 30.8,456.7 30.8,467.3 31.8,476.7 33.1,483.3 36.4,494.3 38.8,500.0 46.1,513.0 51.8,520.3 56.4,525.3 63.8,531.7 69.1,535.3 82.4,542.0 87.4,543.7 96.4,545.7 102.4,546.3 111.8,546.3 119.4,545.3 125.4,544.0 132.4,541.7 139.8,538.3 147.4,533.7 153.1,529.3 160.8,522.0 164.4,517.7 169.4,510.7 172.8,505.0 176.1,498.0 179.8,487.7 181.4,481.0 182.8,472.7 183.1,454.7 181.8,444.7 179.8,436.3 174.8,423.0 167.4,410.3 160.8,402.0 155.4,396.7 149.8,392.0 142.8,387.3 132.4,382.3 125.4,380.0 117.4,378.3 111.8,377.7ZM85.4,488.3 89.4,491.7 91.1,495.0 91.4,499.0 90.8,501.7 89.4,504.3 85.4,508.3 80.4,510.7 74.4,511.0 70.8,509.7 68.1,507.3 66.1,503.3 66.1,498.3 68.4,493.3 71.8,490.0 76.4,487.7 82.4,487.3ZM105.1,422.7 110.1,422.3 112.8,423.3 116.1,425.7 121.1,431.3 126.8,441.3 129.8,445.3 134.8,449.7 144.1,456.0 147.1,459.0 149.4,462.3 152.8,470.7 153.4,474.0 153.4,480.7 151.8,486.7 149.8,490.3 147.4,493.3 143.8,496.3 138.8,498.3 133.8,498.0 128.1,495.0 125.1,492.0 122.1,486.7 120.4,480.3 119.8,466.3 119.1,462.0 118.1,459.0 115.8,455.0 113.8,453.0 107.8,449.0 103.8,445.7 101.4,442.7 99.4,437.7 99.1,432.7 100.1,428.3 102.1,425.0Z"/>
<path fill="#00f0e8" fill-rule="evenodd" d="M102.4,377.7 94.4,378.7 87.4,380.3 80.8,382.7 72.4,386.7 66.1,390.7 60.1,395.3 55.1,400.0 48.8,407.3 41.4,418.7 37.8,426.3 34.4,435.7 31.4,449.7 31.1,456.3 30.8,456.7 30.8,467.3 31.8,476.7 33.1,483.3 36.4,494.3 38.8,500.0 46.1,513.0 51.8,520.3 56.4,525.3 63.8,531.7 69.1,535.3 82.4,542.0 87.4,543.7 96.4,545.7 102.4,546.3 111.8,546.3 119.4,545.3 125.4,544.0 132.4,541.7 139.8,538.3 147.4,533.7 153.1,529.3 160.8,522.0 164.4,517.7 169.4,510.7 172.8,505.0 176.1,498.0 179.8,487.7 181.4,481.0 182.8,472.7 183.1,454.7 181.8,444.7 179.8,436.3 174.8,423.0 167.4,410.3 160.8,402.0 155.4,396.7 149.8,392.0 142.8,387.3 132.4,382.3 125.4,380.0 117.4,378.3 111.8,377.7ZM119.4,419.0 126.1,423.7 129.8,427.3 138.4,437.7 153.1,451.7 157.8,458.0 160.4,463.0 163.4,471.3 164.4,475.7 165.1,480.7 165.1,488.7 163.4,497.3 162.1,501.3 159.4,506.7 155.1,512.3 150.4,516.3 144.1,519.7 135.4,521.7 110.8,521.3 101.1,522.7 90.1,525.0 73.8,527.0 65.8,526.3 59.8,524.0 57.8,522.7 53.4,518.0 51.4,514.0 50.4,510.0 50.8,501.3 52.1,497.0 54.1,492.7 58.4,486.3 64.4,480.3 70.4,476.0 83.8,468.3 86.4,466.3 89.1,463.3 90.8,459.0 90.8,453.3 90.1,449.0 90.4,435.7 92.4,428.3 95.8,422.0 100.8,417.3 105.4,415.7 111.8,416.0Z"/>
<path fill="#00f898" fill-rule="evenodd" d="M87.4,543.7 94.4,545.3 102.4,546.3 111.8,546.3 117.4,545.7ZM44.8,413.0 38.8,424.0 34.4,435.7 31.8,447.3 30.8,456.7 30.8,467.3 31.8,476.7 33.8,486.0 37.8,497.7 41.4,491.0 48.4,481.7 57.8,472.0 67.1,464.3 72.4,458.7 77.1,450.3 81.8,436.7 85.8,427.0 89.4,420.3 92.1,416.7 96.1,412.7 98.1,411.3 101.1,410.0 104.8,409.3 110.1,409.7 121.8,412.7 127.1,414.7 132.1,417.7 136.8,422.3 145.1,432.7 160.1,447.0 166.1,455.3 169.4,462.0 172.4,469.7 175.8,481.3 176.8,488.0 177.1,495.3 179.8,487.7 181.4,481.0 183.1,469.3 182.8,451.3 181.8,444.7 179.8,436.3 176.1,426.0 172.8,419.0 169.4,413.3 164.4,406.3 155.4,396.7 149.8,392.0 142.8,387.3 132.4,382.3 125.4,380.0 115.1,378.0 102.4,377.7 94.4,378.7 87.4,380.3 80.8,382.7 72.4,386.7 63.8,392.3 55.1,400.0 48.8,407.3Z"/>
<path fill="#02ff08" fill-rule="evenodd" d="M177.4,429.3 174.8,423.0 169.4,413.3 160.8,402.0 151.1,393.0 145.4,389.0 137.8,384.7 125.4,380.0 119.4,378.7 111.8,377.7 102.4,377.7 96.4,378.3 87.4,380.3 82.4,382.0 69.1,388.7 63.8,392.3 56.4,398.7 51.8,403.7 46.1,411.0 38.8,424.0 33.8,438.0 31.1,452.7 30.8,467.3 31.1,467.7 31.4,474.3 33.1,482.3 40.1,475.0 56.8,456.0 76.1,429.7 89.8,409.0 94.4,404.3 98.1,402.3 101.1,401.7 104.4,401.7 118.8,405.3 129.8,405.3 137.4,404.0 140.4,402.3 144.1,396.0 146.1,394.0 148.1,393.0 150.4,393.3 152.1,395.7 151.8,399.0 150.8,400.7 145.4,405.3 144.1,408.7 144.4,413.7 146.1,419.3 150.1,426.0 154.8,430.7 164.4,438.0 170.8,444.7 174.1,449.7 183.1,469.3 183.1,454.7 182.4,448.7 179.8,436.3Z"/>
<path fill="#88ff00" fill-rule="evenodd" d="M71.4,387.3 63.8,392.3 55.1,400.0 55.1,400.7 59.8,405.3 62.4,407.3 65.4,408.7 67.4,409.0 71.8,407.7 74.1,405.3 75.4,402.7 75.8,398.7 75.1,395.7Z"/>
<ellipse cx="107.0" cy="462.0" rx="75.4" ry="83.5" fill="none" stroke="#000" stroke-width="1.1"/>
<circle cx="82.7" cy="388.0" r="2.3" fill="#fff" stroke="#000" stroke-width="1"/>
<circle cx="131.3" cy="388.0" r="2.3" fill="#fff" stroke="#000" stroke-width="1"/>
<circle cx="43.0" cy="423.3" r="2.3" fill="#fff" stroke="#000" stroke-width="1"/>
<circle cx="75.6" cy="424.7" r="2.3" fill="#fff" stroke="#000" stroke-width="1"/>
<circle cx="107.0" cy="426.0" r="2.3" fill="#fff" stroke="#000" stroke-width="1"/>
<circle cx="138.4" cy="424.7" r="2.3" fill="#fff" stroke="#000" stroke-width="1"/>
<circle cx="171.0" cy="423.3" r="2.3" fill="#fff" stroke="#000" stroke-width="1"/>
<circle cx="34.6" cy="461.7" r="2.3" fill="#fff" stroke="#000" stroke-width="1"/>
<circle cx="70.0" cy="461.7" r="2.3" fill="#fff" stroke="#000" stroke-width="1"/>
<circle cx="107.0" cy="461.7" r="2.3" fill="#fff" stroke="#000" stroke-width="1"/>
<circle cx="144.0" cy="461.7" r="2.3" fill="#fff" stroke="#000" stroke-width="1"/>
<circle cx="179.4" cy="461.7" r="2.3" fill="#fff" stroke="#000" stroke-width="1"/>
<circle cx="43.0" cy="499.5" r="2.3" fill="#fff" stroke="#000" stroke-width="1"/>
<circle cx="75.6" cy="498.1" r="2.3" fill="#fff" stroke="#000" stroke-width="1"/>
<circle cx="107.0" cy="496.8" r="2.3" fill="#fff" stroke="#000" stroke-width="1"/>
<circle cx="138.4" cy="498.1" r="2.3" fill="#fff" stroke="#000" stroke-width="1"/>
<circle cx="171.0" cy="499.5" r="2.3" fill="#fff" stroke="#000" stroke-width="1"/>
<circle cx="82.7" cy="535.0" r="2.3" fill="#fff" stroke="#000" stroke-width="1"/>
<circle cx="131.3" cy="535.0" r="2.3" fill="#fff" stroke="#000" stroke-width="1"/>
<path d="M303.8,379.5 C305.3,371.5 307.6,365.5 311.1,365.5 C314.6,365.5 316.9,371.5 318.4,379.5Z" fill="#f2c0c6" stroke="#000" stroke-width="1"/>
<path d="M236.3,442.8 C228.3,443.8 226.3,452.4 226.3,462.0 C226.3,471.6 228.3,480.2 236.3,481.2Z" fill="#f2c0c6" stroke="#000" stroke-width="1"/>
<path d="M385.9,442.8 C393.9,443.8 395.9,452.4 395.9,462.0 C395.9,471.6 393.9,480.2 385.9,481.2Z" fill="#f2c0c6" stroke="#000" stroke-width="1"/>
<ellipse cx="311.1" cy="462.0" rx="75.4" ry="83.5" fill="#00f0e8"/>
<path fill="#00f898" fill-rule="evenodd" d="M306.5,377.7 298.5,378.7 291.5,380.3 284.8,382.7 276.5,386.7 270.2,390.7 264.2,395.3 259.2,400.0 252.8,407.3 245.5,418.7 241.8,426.3 238.5,435.7 235.5,449.7 235.2,456.3 234.8,456.7 234.8,467.3 235.8,476.7 237.2,483.3 240.5,494.3 242.8,500.0 250.2,513.0 255.8,520.3 260.5,525.3 267.8,531.7 273.2,535.3 286.5,542.0 291.5,543.7 300.5,545.7 306.5,546.3 315.8,546.3 323.5,545.3 329.5,544.0 336.5,541.7 343.8,538.3 351.5,533.7 357.2,529.3 364.8,522.0 368.5,517.7 373.5,510.7 376.8,505.0 380.2,498.0 383.8,487.7 385.5,481.0 386.8,472.7 387.2,454.7 385.8,444.7 383.8,436.3 378.8,423.0 371.5,410.3 364.8,402.0 359.5,396.7 353.8,392.0 346.8,387.3 336.5,382.3 329.5,380.0 321.5,378.3 315.8,377.7ZM315.5,457.7 318.5,457.7 320.5,458.7 322.5,460.7 323.5,462.7 324.2,465.7 323.8,469.3 322.5,472.3 320.2,474.7 317.8,475.7 316.2,475.7 312.8,474.0 311.2,472.0 309.8,468.7 309.8,464.3 311.2,461.0 313.8,458.3Z"/>
<path fill="#02ff08" fill-rule="evenodd" d="M306.5,377.7 298.5,378.7 291.5,380.3 284.8,382.7 276.5,386.7 270.2,390.7 264.2,395.3 259.2,400.0 252.8,407.3 245.5,418.7 241.8,426.3 238.5,435.7 235.5,449.7 235.2,456.3 234.8,456.7 234.8,467.3 235.8,476.7 237.2,483.3 240.5,494.3 242.8,500.0 250.2,513.0 255.8,520.3 260.5,525.3 267.8,531.7 273.2,535.3 286.5,542.0 291.5,543.7 300.5,545.7 306.5,546.3 315.8,546.3 323.5,545.3 329.5,544.0 336.5,541.7 343.8,538.3 351.5,533.7 357.2,529.3 364.8,522.0 368.5,517.7 373.5,510.7 376.8,505.0 380.2,498.0 383.8,487.7 385.5,481.0 386.8,472.7 387.2,454.7 385.8,444.7 383.8,436.3 378.8,423.0 371.5,410.3 364.8,402.0 359.5,396.7 353.8,392.0 346.8,387.3 336.5,382.3 329.5,380.0 321.5,378.3 315.8,377.7ZM316.5,444.7 320.2,444.7 322.8,445.3 325.5,446.7 327.8,448.7 329.8,451.3 331.5,454.7 333.2,463.0 333.2,467.3 332.5,472.0 331.2,476.3 329.5,479.7 325.5,484.3 320.8,486.7 314.8,486.3 309.5,483.0 307.2,480.3 305.2,477.0 303.8,473.7 302.8,469.3 302.5,466.0 302.8,460.3 303.5,457.3 305.5,452.3 306.8,450.3 310.8,446.7Z"/>
<path fill="#88ff00" fill-rule="evenodd" d="M296.8,379.0 291.5,380.3 282.5,383.7 276.5,386.7 267.8,392.3 260.5,398.7 255.8,403.7 250.2,411.0 246.8,416.3 242.8,424.0 240.5,429.7 237.8,438.0 235.8,447.3 234.8,456.7 234.8,467.3 236.5,480.3 238.5,488.3 241.8,497.7 245.5,505.3 248.8,511.0 252.8,516.7 259.2,524.0 264.2,528.7 271.2,534.0 272.2,534.3 279.5,527.7 288.5,521.0 295.2,514.3 297.5,509.7 298.2,506.7 297.8,498.0 292.5,476.0 291.2,465.7 290.5,454.3 289.2,444.7 286.5,436.0 284.2,431.7 279.5,425.0 278.5,422.3 277.2,414.7 277.5,405.3 279.5,397.7 281.5,393.7 283.2,391.3 287.2,387.3 289.5,385.7 295.2,383.3 300.8,383.0 306.2,384.3 310.2,386.3 315.8,390.7 329.2,404.0 344.2,414.7 349.5,419.0 352.2,421.7 355.2,425.7 356.8,429.0 357.8,432.7 357.5,440.7 356.5,444.7 350.5,461.7 348.5,477.3 345.5,490.0 340.8,503.0 333.5,518.0 330.8,526.3 330.5,535.7 331.2,539.3 332.5,543.0 338.2,541.0 343.8,538.3 351.5,533.7 357.2,529.3 367.2,519.3 371.5,513.7 376.8,505.0 380.2,498.0 383.8,487.7 386.5,475.3 387.2,469.3 387.2,454.7 385.5,443.0 383.8,436.3 380.2,426.0 376.8,419.0 373.5,413.3 364.8,402.0 359.5,396.7 353.8,392.0 346.8,387.3 341.8,384.7 336.5,382.3 326.8,379.3 315.8,377.7 306.5,377.7Z"/>
<path fill="#d4fc00" fill-rule="evenodd" d="M387.2,469.3 376.8,468.3 370.5,469.0 366.5,471.0 363.2,474.3 360.5,479.0 359.2,482.7 357.8,489.0 357.5,500.0 357.8,500.3 357.8,506.3 358.8,516.7 360.8,526.0 367.2,519.3 371.5,513.7 378.8,501.0 383.8,487.7 385.8,479.3ZM254.5,405.3 250.2,411.0 245.5,418.7 241.8,426.3 238.5,435.7 235.5,449.7 235.2,456.3 234.8,456.7 234.8,467.3 235.8,476.7 237.2,483.3 240.5,494.3 242.8,500.0 246.8,507.7 252.8,516.7 259.2,524.0 262.5,527.0 263.2,527.0 270.2,522.3 277.5,516.7 283.5,510.7 285.2,508.3 287.8,502.3 288.5,499.3 288.8,493.3 285.5,462.7 284.5,457.0 282.2,449.3 279.2,443.3 267.8,427.7Z"/>
<path fill="#ffd200" fill-rule="evenodd" d="M244.2,428.7 241.8,429.7 239.8,431.7 238.2,437.0 238.2,440.7 238.8,444.0 242.2,455.0 242.2,461.3 240.2,466.3 235.5,472.0 235.5,474.3 237.8,486.0 242.8,500.0 248.8,511.0 253.8,517.7 259.2,516.0 264.5,513.3 269.2,510.3 275.8,504.3 278.8,500.0 280.2,496.0 280.8,491.3 280.8,482.3 280.5,482.0 279.8,467.0 277.8,458.0 275.5,453.3 270.5,447.0 254.5,431.7 248.5,428.7Z"/>
<path fill="#ff8000" fill-rule="evenodd" d="M265.8,461.7 261.2,461.3 257.8,463.7 255.5,466.7 250.8,474.3 246.5,482.7 244.5,489.3 244.5,494.3 245.8,498.0 247.8,500.0 251.5,501.3 255.2,501.3 261.8,499.0 263.8,497.7 267.2,494.3 269.5,490.0 270.8,484.0 270.8,471.7 269.5,465.7 268.8,464.3Z"/>
<ellipse cx="311.1" cy="462.0" rx="75.4" ry="83.5" fill="none" stroke="#000" stroke-width="1.1"/>
<circle cx="286.8" cy="388.0" r="2.3" fill="#fff" stroke="#000" stroke-width="1"/>
<circle cx="335.4" cy="388.0" r="2.3" fill="#fff" stroke="#000" stroke-width="1"/>
<circle cx="247.1" cy="423.3" r="2.3" fill="#fff" stroke="#000" stroke-width="1"/>
<circle cx="279.7" cy="424.7" r="2.3" fill="#fff" stroke="#000" stroke-width="1"/>
<circle cx="311.1" cy="426.0" r="2.3" fill="#fff" stroke="#000" stroke-width="1"/>
<circle cx="342.5" cy="424.7" r="2.3" fill="#fff" stroke="#000" stroke-width="1"/>
<circle cx="375.1" cy="423.3" r="2.3" fill="#fff" stroke="#000" stroke-width="1"/>
<circle cx="238.7" cy="461.7" r="2.3" fill="#fff" stroke="#000" stroke-width="1"/>
<circle cx="274.1" cy="461.7" r="2.3" fill="#fff" stroke="#000" stroke-width="1"/>
<circle cx="311.1" cy="461.7" r="2.3" fill="#fff" stroke="#000" stroke-width="1"/>
<circle cx="348.1" cy="461.7" r="2.3" fill="#fff" stroke="#000" stroke-width="1"/>
<circle cx="383.5" cy="461.7" r="2.3" fill="#fff" stroke="#000" stroke-width="1"/>
<circle cx="247.1" cy="499.5" r="2.3" fill="#fff" stroke="#000" stroke-width="1"/>
<circle cx="279.7" cy="498.1" r="2.3" fill="#fff" stroke="#000" stroke-width="1"/>
<circle cx="311.1" cy="496.8" r="2.3" fill="#fff" stroke="#000" stroke-width="1"/>
<circle cx="342.5" cy="498.1" r="2.3" fill="#fff" stroke="#000" stroke-width="1"/>
<circle cx="375.1" cy="499.5" r="2.3" fill="#fff" stroke="#000" stroke-width="1"/>
<circle cx="286.8" cy="535.0" r="2.3" fill="#fff" stroke="#000" stroke-width="1"/>
<circle cx="335.4" cy="535.0" r="2.3" fill="#fff" stroke="#000" stroke-width="1"/>
<path d="M507.9,379.5 C509.4,371.5 511.7,365.5 515.2,365.5 C518.7,365.5 521.0,371.5 522.5,379.5Z" fill="#f2c0c6" stroke="#000" stroke-width="1"/>
<path d="M440.4,442.8 C432.4,443.8 430.4,452.4 430.4,462.0 C430.4,471.6 432.4,480.2 440.4,481.2Z" fill="#f2c0c6" stroke="#000" stroke-width="1"/>
<path d="M590.0,442.8 C598.0,443.8 600.0,452.4 600.0,462.0 C600.0,471.6 598.0,480.2 590.0,481.2Z" fill="#f2c0c6" stroke="#000" stroke-width="1"/>
<ellipse cx="515.2" cy="462.0" rx="75.4" ry="83.5" fill="#02ff08"/>
<path fill="#88ff00" fill-rule="evenodd" d="M483.6,385.3 483.6,393.7 481.9,397.7 478.6,400.3 473.6,401.7 469.3,401.7 465.6,401.0 463.3,400.0 454.3,411.0 446.9,424.0 442.6,435.7 439.6,449.7 439.3,456.3 438.9,456.7 438.9,467.3 439.9,476.7 455.9,496.7 463.6,509.0 468.6,515.3 474.9,521.0 477.9,523.0 482.3,525.0 486.9,526.3 490.3,526.3 490.6,526.7 494.6,526.3 498.9,525.3 513.3,520.3 518.9,520.3 525.9,522.0 538.6,526.0 545.6,527.3 557.3,527.7 564.6,526.3 572.6,517.7 577.6,510.7 580.9,505.0 584.3,498.0 587.9,487.7 590.6,475.3 591.3,469.3 591.3,454.7 589.9,444.7 587.9,436.3 585.6,429.3 580.9,419.0 577.6,413.3 572.6,406.3 563.6,396.7 557.9,392.0 550.9,387.3 540.6,382.3 533.6,380.0 525.6,378.3 519.9,377.7 510.6,377.7 502.6,378.7 495.6,380.3 490.6,382.0Z"/>
<path fill="#d4fc00" fill-rule="evenodd" d="M557.9,392.0 556.3,391.0 548.6,394.7 542.9,396.3 538.6,396.3 535.3,395.7 527.6,393.0 523.3,392.0 516.9,392.0 514.3,392.7 511.6,394.0 507.6,398.0 502.3,408.3 496.6,414.7 494.6,417.7 489.6,429.3 487.6,431.7 484.3,433.7 477.9,434.0 475.3,433.3 468.6,430.7 457.6,424.7 453.3,423.3 450.3,423.7 448.9,424.3 446.9,426.3 445.3,429.3 444.6,431.7 444.3,438.7 446.9,451.7 451.9,466.3 455.6,474.0 461.9,484.0 472.6,498.0 478.6,503.7 483.3,506.3 488.3,507.7 496.3,507.7 507.3,506.0 523.9,505.3 524.3,505.0 531.6,505.3 541.3,506.7 550.9,506.7 557.3,505.3 562.6,503.0 566.6,500.3 571.6,495.0 575.3,488.7 576.9,484.0 578.6,475.7 579.3,464.0 580.3,457.0 582.9,448.0 587.9,438.0 587.9,436.3 582.9,423.0 575.6,410.3 568.9,402.0 563.6,396.7ZM510.9,454.0 514.6,454.0 516.9,454.7 519.3,456.0 522.3,459.0 524.3,463.7 524.3,469.3 522.9,473.0 519.6,476.7 516.6,478.0 512.3,478.0 508.9,476.3 505.6,472.7 503.6,467.3 503.6,461.7 505.3,457.7 508.3,455.0Z"/>
<path fill="#ffd200" fill-rule="evenodd" d="M474.6,454.7 471.6,456.7 469.9,460.0 469.9,464.7 470.6,467.0 473.3,471.3 475.9,473.7 479.3,475.0 481.6,474.7 483.6,473.0 485.3,469.3 485.6,462.7 484.9,460.0 483.9,458.0 481.6,455.7 478.3,454.3ZM514.6,409.3 510.3,413.0 506.9,417.0 504.3,421.3 503.6,423.7 503.6,429.7 505.3,434.0 507.6,436.7 509.6,438.0 523.6,443.3 534.6,449.3 537.9,452.7 539.9,457.0 540.9,462.3 541.6,472.0 542.6,476.0 543.9,478.7 545.9,480.7 547.9,481.7 550.3,482.0 552.3,481.7 554.3,480.7 556.9,478.3 558.3,476.3 560.3,470.3 559.9,460.0 558.6,455.7 556.9,452.3 552.3,447.0 548.3,444.0 544.9,440.7 542.3,437.0 539.3,431.3 535.6,421.0 531.9,414.7 527.6,410.7 522.3,408.3 517.3,408.3Z"/>
<ellipse cx="515.2" cy="462.0" rx="75.4" ry="83.5" fill="none" stroke="#000" stroke-width="1.1"/>
<circle cx="490.9" cy="388.0" r="2.3" fill="#fff" stroke="#000" stroke-width="1"/>
<circle cx="539.5" cy="388.0" r="2.3" fill="#fff" stroke="#000" stroke-width="1"/>
<circle cx="451.2" cy="423.3" r="2.3" fill="#fff" stroke="#000" stroke-width="1"/>
<circle cx="483.8" cy="424.7" r="2.3" fill="#fff" stroke="#000" stroke-width="1"/>
<circle cx="515.2" cy="426.0" r="2.3" fill="#fff" stroke="#000" stroke-width="1"/>
<circle cx="546.6" cy="424.7" r="2.3" fill="#fff" stroke="#000" stroke-width="1"/>
<circle cx="579.2" cy="423.3" r="2.3" fill="#fff" stroke="#000" stroke-width="1"/>
<circle cx="442.8" cy="461.7" r="2.3" fill="#fff" stroke="#000" stroke-width="1"/>
<circle cx="478.2" cy="461.7" r="2.3" fill="#fff" stroke="#000" stroke-width="1"/>
<circle cx="515.2" cy="461.7" r="2.3" fill="#fff" stroke="#000" stroke-width="1"/>
<circle cx="552.2" cy="461.7" r="2.3" fill="#fff" stroke="#000" stroke-width="1"/>
<circle cx="587.6" cy="461.7" r="2.3" fill="#fff" stroke="#000" stroke-width="1"/>
<circle cx="451.2" cy="499.5" r="2.3" fill="#fff" stroke="#000" stroke-width="1"/>
<circle cx="483.8" cy="498.1" r="2.3" fill="#fff" stroke="#000" stroke-width="1"/>
<circle cx="515.2" cy="496.8" r="2.3" fill="#fff" stroke="#000" stroke-width="1"/>
<circle cx="546.6" cy="498.1" r="2.3" fill="#fff" stroke="#000" stroke-width="1"/>
<circle cx="579.2" cy="499.5" r="2.3" fill="#fff" stroke="#000" stroke-width="1"/>
<circle cx="490.9" cy="535.0" r="2.3" fill="#fff" stroke="#000" stroke-width="1"/>
<circle cx="539.5" cy="535.0" r="2.3" fill="#fff" stroke="#000" stroke-width="1"/>
<path d="M711.9,379.5 C713.4,371.5 715.7,365.5 719.2,365.5 C722.7,365.5 725.0,371.5 726.5,379.5Z" fill="#f2c0c6" stroke="#000" stroke-width="1"/>
<path d="M644.4,442.8 C636.4,443.8 634.4,452.4 634.4,462.0 C634.4,471.6 636.4,480.2 644.4,481.2Z" fill="#f2c0c6" stroke="#000" stroke-width="1"/>
<path d="M794.0,442.8 C802.0,443.8 804.0,452.4 804.0,462.0 C804.0,471.6 802.0,480.2 794.0,481.2Z" fill="#f2c0c6" stroke="#000" stroke-width="1"/>
<ellipse cx="719.2" cy="462.0" rx="75.4" ry="83.5" fill="#00f898"/>
<path fill="#02ff08" fill-rule="evenodd" d="M714.7,377.7 706.7,378.7 699.7,380.3 693.0,382.7 684.7,386.7 678.3,390.7 672.3,395.3 667.3,400.0 661.0,407.3 659.0,410.3 661.7,410.3 666.0,412.7 669.7,417.3 671.7,422.3 672.7,428.0 672.7,433.7 671.0,442.3 668.7,447.7 664.7,452.3 662.0,453.7 659.0,454.0 654.7,452.3 651.7,449.7 647.3,443.7 645.7,439.3 643.3,452.7 643.0,467.3 644.0,476.7 645.3,483.3 648.7,494.3 651.0,500.0 658.3,513.0 664.0,520.3 668.7,525.3 676.0,531.7 681.3,535.3 694.7,542.0 699.7,543.7 708.7,545.7 714.7,546.3 724.0,546.3 731.7,545.3 737.7,544.0 744.7,541.7 752.0,538.3 759.7,533.7 765.3,529.3 773.0,522.0 776.7,517.7 781.7,510.7 785.0,505.0 788.3,498.0 792.0,487.7 793.7,481.0 795.0,472.7 795.3,454.7 794.0,444.7 792.0,436.3 787.0,423.0 779.7,410.3 773.0,402.0 767.7,396.7 762.0,392.0 755.0,387.3 744.7,382.3 737.7,380.0 729.7,378.3 724.0,377.7Z"/>
<path fill="#88ff00" fill-rule="evenodd" d="M737.7,380.0 735.0,381.0 728.7,384.7 715.7,393.7 704.7,404.0 698.3,412.3 694.3,420.0 692.3,426.0 690.0,443.7 686.0,465.3 682.7,478.7 679.7,486.7 675.3,493.7 669.3,499.7 662.0,504.0 657.7,505.3 654.0,505.7 658.3,513.0 664.0,520.3 668.7,525.3 676.0,531.7 684.7,537.3 690.7,540.3 699.7,543.7 706.7,545.3 714.7,546.3 724.0,546.3 731.7,545.3 737.7,544.0 744.7,541.7 755.0,536.7 765.3,529.3 775.3,519.3 779.7,513.7 783.7,507.3 787.0,501.0 790.0,493.7 786.0,493.7 785.7,494.0 776.0,493.7 772.7,493.0 767.0,490.7 764.7,489.0 759.7,483.3 757.7,479.0 756.0,471.0 756.0,460.3 757.7,448.3 759.7,440.0 762.7,433.0 766.0,429.0 770.7,426.0 776.0,424.3 783.0,423.3 786.3,421.7 781.7,413.3 776.7,406.3 773.0,402.0 765.3,394.7 759.7,390.3 752.0,385.7 744.7,382.3Z"/>
<path fill="#d4fc00" fill-rule="evenodd" d="M725.7,421.0 720.7,421.0 717.7,421.7 711.0,425.0 706.0,430.0 704.0,433.0 701.0,439.7 697.7,452.7 696.3,463.3 696.3,476.3 698.3,490.3 698.3,498.3 696.0,504.3 693.0,508.3 685.3,515.3 678.3,520.3 669.3,525.3 672.3,528.7 678.3,533.3 684.7,537.3 690.7,540.3 699.7,543.7 711.0,546.0 724.0,546.3 731.7,545.3 737.7,544.0 744.7,541.7 752.0,538.3 759.7,533.7 767.7,527.3 775.3,519.3 782.0,510.0 782.0,509.3 776.7,509.0 769.0,507.7 759.7,504.7 753.0,500.7 748.0,495.0 745.7,489.3 745.0,485.7 745.0,481.3 744.7,481.0 745.0,456.3 744.7,456.0 744.3,448.7 742.3,439.7 738.7,431.3 736.0,427.3 731.7,423.3 728.3,421.7Z"/>
<path fill="#ffd200" fill-rule="evenodd" d="M768.7,526.3 762.3,525.3 756.7,525.3 745.0,528.0 740.3,528.0 730.0,526.0 723.0,526.3 713.7,528.3 703.0,531.7 696.3,534.3 688.3,539.0 693.0,541.3 699.7,543.7 708.7,545.7 714.7,546.3 724.0,546.3 729.7,545.7 737.7,544.0 750.0,539.3 759.7,533.7ZM718.0,443.0 714.0,445.3 710.7,449.7 709.0,453.3 708.0,457.0 707.7,465.7 709.0,471.3 712.3,477.0 716.7,480.3 720.0,481.3 722.7,481.3 726.7,479.7 729.3,477.0 731.3,473.3 733.0,466.7 733.0,458.0 731.3,451.7 728.7,447.0 726.3,444.7 724.0,443.3 721.7,442.7Z"/>
<ellipse cx="719.2" cy="462.0" rx="75.4" ry="83.5" fill="none" stroke="#000" stroke-width="1.1"/>
<circle cx="694.9" cy="388.0" r="2.3" fill="#fff" stroke="#000" stroke-width="1"/>
<circle cx="743.5" cy="388.0" r="2.3" fill="#fff" stroke="#000" stroke-width="1"/>
<circle cx="655.2" cy="423.3" r="2.3" fill="#fff" stroke="#000" stroke-width="1"/>
<circle cx="687.8" cy="424.7" r="2.3" fill="#fff" stroke="#000" stroke-width="1"/>
<circle cx="719.2" cy="426.0" r="2.3" fill="#fff" stroke="#000" stroke-width="1"/>
<circle cx="750.6" cy="424.7" r="2.3" fill="#fff" stroke="#000" stroke-width="1"/>
<circle cx="783.2" cy="423.3" r="2.3" fill="#fff" stroke="#000" stroke-width="1"/>
<circle cx="646.8" cy="461.7" r="2.3" fill="#fff" stroke="#000" stroke-width="1"/>
<circle cx="682.2" cy="461.7" r="2.3" fill="#fff" stroke="#000" stroke-width="1"/>
<circle cx="719.2" cy="461.7" r="2.3" fill="#fff" stroke="#000" stroke-width="1"/>
<circle cx="756.2" cy="461.7" r="2.3" fill="#fff" stroke="#000" stroke-width="1"/>
<circle cx="791.6" cy="461.7" r="2.3" fill="#fff" stroke="#000" stroke-width="1"/>
<circle cx="655.2" cy="499.5" r="2.3" fill="#fff" stroke="#000" stroke-width="1"/>
<circle cx="687.8" cy="498.1" r="2.3" fill="#fff" stroke="#000" stroke-width="1"/>
<circle cx="719.2" cy="496.8" r="2.3" fill="#fff" stroke="#000" stroke-width="1"/>
<circle cx="750.6" cy="498.1" r="2.3" fill="#fff" stroke="#000" stroke-width="1"/>
<circle cx="783.2" cy="499.5" r="2.3" fill="#fff" stroke="#000" stroke-width="1"/>
<circle cx="694.9" cy="535.0" r="2.3" fill="#fff" stroke="#000" stroke-width="1"/>
<circle cx="743.5" cy="535.0" r="2.3" fill="#fff" stroke="#000" stroke-width="1"/>
<path d="M916.0,379.5 C917.5,371.5 919.8,365.5 923.3,365.5 C926.8,365.5 929.1,371.5 930.6,379.5Z" fill="#f2c0c6" stroke="#000" stroke-width="1"/>
<path d="M848.5,442.8 C840.5,443.8 838.5,452.4 838.5,462.0 C838.5,471.6 840.5,480.2 848.5,481.2Z" fill="#f2c0c6" stroke="#000" stroke-width="1"/>
<path d="M998.1,442.8 C1006.1,443.8 1008.1,452.4 1008.1,462.0 C1008.1,471.6 1006.1,480.2 998.1,481.2Z" fill="#f2c0c6" stroke="#000" stroke-width="1"/>
<ellipse cx="923.3" cy="462.0" rx="75.4" ry="83.5" fill="#00f0e8"/>
<path fill="#00f898" fill-rule="evenodd" d="M918.8,377.7 910.8,378.7 903.8,380.3 897.1,382.7 888.8,386.7 882.4,390.7 876.4,395.3 871.4,400.0 865.1,407.3 857.8,418.7 854.1,426.3 850.8,435.7 847.8,449.7 847.4,456.3 847.1,456.7 847.1,467.3 848.1,476.7 849.4,483.3 852.8,494.3 855.1,500.0 862.4,513.0 868.1,520.3 872.8,525.3 880.1,531.7 885.4,535.3 898.8,542.0 903.8,543.7 912.8,545.7 918.8,546.3 928.1,546.3 935.8,545.3 941.8,544.0 948.8,541.7 956.1,538.3 963.8,533.7 969.4,529.3 977.1,522.0 980.8,517.7 985.8,510.7 989.1,505.0 992.4,498.0 996.1,487.7 997.8,481.0 999.1,472.7 999.4,454.7 998.1,444.7 996.1,436.3 991.1,423.0 983.8,410.3 977.1,402.0 971.8,396.7 966.1,392.0 959.1,387.3 948.8,382.3 941.8,380.0 933.8,378.3 928.1,377.7ZM894.8,467.3 900.1,468.0 905.4,470.7 909.1,474.7 910.8,479.7 910.8,483.0 910.1,486.0 906.8,492.7 902.1,497.0 900.1,498.0 896.1,499.0 892.8,498.7 890.4,497.7 886.1,493.7 883.1,488.3 882.1,484.7 882.1,478.7 883.1,475.3 884.4,473.0 887.8,469.7 890.4,468.3Z"/>
<path fill="#02ff08" fill-rule="evenodd" d="M918.8,377.7 909.1,379.0 903.8,380.3 894.8,383.7 888.8,386.7 882.4,390.7 876.4,395.3 871.4,400.0 871.1,401.0 872.8,404.3 874.1,409.0 874.4,415.0 873.1,422.3 868.4,437.3 866.8,440.3 864.1,440.7 857.8,438.3 851.1,435.0 849.4,440.7 847.8,449.7 847.4,456.3 847.1,456.7 847.1,467.3 848.1,476.7 849.4,483.3 852.8,494.3 855.1,500.0 862.4,513.0 868.1,520.3 872.8,525.3 880.1,531.7 885.4,535.3 898.8,542.0 903.8,543.7 912.8,545.7 918.8,546.3 928.1,546.3 935.8,545.3 942.8,543.7 937.8,540.3 925.4,528.7 921.1,525.7 915.4,523.3 907.1,521.7 898.4,520.7 888.8,518.0 884.1,515.7 880.4,513.0 875.8,508.3 872.4,503.7 868.8,496.7 866.8,491.7 864.4,484.0 863.1,475.7 863.1,465.3 863.8,459.0 865.4,449.7 867.1,444.7 868.8,443.3 870.1,443.3 884.1,447.0 896.1,449.0 904.8,449.0 907.8,448.3 912.8,446.0 916.8,442.3 919.4,437.3 921.1,428.3 922.8,426.0 923.4,425.7 924.8,426.0 926.8,428.0 931.1,440.0 935.8,447.3 941.1,452.7 954.1,460.7 957.8,464.7 959.1,468.0 961.4,478.3 963.8,485.7 971.1,502.0 973.4,508.3 974.4,512.3 975.1,518.0 974.8,524.3 979.4,519.3 985.8,510.7 989.1,505.0 993.8,494.7 996.1,487.7 998.8,475.3 999.4,469.3 999.4,454.7 998.1,444.7 996.1,436.3 991.1,423.0 983.8,410.3 977.1,402.0 971.8,396.7 966.1,392.0 959.1,387.3 948.8,382.3 941.8,380.0 933.8,378.3 928.1,377.7Z"/>
<path fill="#88ff00" fill-rule="evenodd" d="M999.4,467.7 996.8,468.3 993.8,470.0 992.4,471.7 991.4,474.7 991.4,476.3 992.4,480.0 996.4,485.7 998.1,479.3ZM959.4,388.3 957.1,396.0 956.8,402.0 958.4,406.7 960.8,409.3 965.1,411.3 969.8,411.3 973.8,410.0 980.4,406.0 977.1,402.0 969.4,394.7 960.1,388.0Z"/>
<ellipse cx="923.3" cy="462.0" rx="75.4" ry="83.5" fill="none" stroke="#000" stroke-width="1.1"/>
<circle cx="899.0" cy="388.0" r="2.3" fill="#fff" stroke="#000" stroke-width="1"/>
<circle cx="947.6" cy="388.0" r="2.3" fill="#fff" stroke="#000" stroke-width="1"/>
<circle cx="859.3" cy="423.3" r="2.3" fill="#fff" stroke="#000" stroke-width="1"/>
<circle cx="891.9" cy="424.7" r="2.3" fill="#fff" stroke="#000" stroke-width="1"/>
<circle cx="923.3" cy="426.0" r="2.3" fill="#fff" stroke="#000" stroke-width="1"/>
<circle cx="954.7" cy="424.7" r="2.3" fill="#fff" stroke="#000" stroke-width="1"/>
<circle cx="987.3" cy="423.3" r="2.3" fill="#fff" stroke="#000" stroke-width="1"/>
<circle cx="850.9" cy="461.7" r="2.3" fill="#fff" stroke="#000" stroke-width="1"/>
<circle cx="886.3" cy="461.7" r="2.3" fill="#fff" stroke="#000" stroke-width="1"/>
<circle cx="923.3" cy="461.7" r="2.3" fill="#fff" stroke="#000" stroke-width="1"/>
<circle cx="960.3" cy="461.7" r="2.3" fill="#fff" stroke="#000" stroke-width="1"/>
<circle cx="995.7" cy="461.7" r="2.3" fill="#fff" stroke="#000" stroke-width="1"/>
<circle cx="859.3" cy="499.5" r="2.3" fill="#fff" stroke="#000" stroke-width="1"/>
<circle cx="891.9" cy="498.1" r="2.3" fill="#fff" stroke="#000" stroke-width="1"/>
<circle cx="923.3" cy="496.8" r="2.3" fill="#fff" stroke="#000" stroke-width="1"/>
<circle cx="954.7" cy="498.1" r="2.3" fill="#fff" stroke="#000" stroke-width="1"/>
<circle cx="987.3" cy="499.5" r="2.3" fill="#fff" stroke="#000" stroke-width="1"/>
<circle cx="899.0" cy="535.0" r="2.3" fill="#fff" stroke="#000" stroke-width="1"/>
<circle cx="947.6" cy="535.0" r="2.3" fill="#fff" stroke="#000" stroke-width="1"/>
<rect x="448.30" y="551.2" width="11.33" height="8.1" fill="#0000dc"/>
<rect x="459.33" y="551.2" width="11.33" height="8.1" fill="#1470f0"/>
<rect x="470.37" y="551.2" width="11.33" height="8.1" fill="#10c8f4"/>
<rect x="481.40" y="551.2" width="11.33" height="8.1" fill="#00f0e8"/>
<rect x="492.43" y="551.2" width="11.33" height="8.1" fill="#00f898"/>
<rect x="503.47" y="551.2" width="11.33" height="8.1" fill="#00f840"/>
<rect x="514.50" y="551.2" width="11.33" height="8.1" fill="#02ff08"/>
<rect x="525.53" y="551.2" width="11.33" height="8.1" fill="#88ff00"/>
<rect x="536.57" y="551.2" width="11.33" height="8.1" fill="#d4fc00"/>
<rect x="547.60" y="551.2" width="11.33" height="8.1" fill="#ffd200"/>
<rect x="558.63" y="551.2" width="11.33" height="8.1" fill="#ff8000"/>
<rect x="569.67" y="551.2" width="11.33" height="8.1" fill="#ff0000"/>
<rect x="448.3" y="551.2" width="132.4" height="8.1" fill="none" stroke="#000" stroke-width="1"/>
<line x1="448.3" y1="559.3" x2="448.3" y2="562.5" stroke="#000" stroke-width="1"/>
<line x1="459.3" y1="559.3" x2="459.3" y2="562.5" stroke="#000" stroke-width="1"/>
<line x1="470.4" y1="559.3" x2="470.4" y2="562.5" stroke="#000" stroke-width="1"/>
<line x1="481.4" y1="559.3" x2="481.4" y2="562.5" stroke="#000" stroke-width="1"/>
<line x1="492.4" y1="559.3" x2="492.4" y2="562.5" stroke="#000" stroke-width="1"/>
<line x1="503.5" y1="559.3" x2="503.5" y2="562.5" stroke="#000" stroke-width="1"/>
<line x1="514.5" y1="559.3" x2="514.5" y2="562.5" stroke="#000" stroke-width="1"/>
<line x1="525.5" y1="559.3" x2="525.5" y2="562.5" stroke="#000" stroke-width="1"/>
<line x1="536.6" y1="559.3" x2="536.6" y2="562.5" stroke="#000" stroke-width="1"/>
<line x1="547.6" y1="559.3" x2="547.6" y2="562.5" stroke="#000" stroke-width="1"/>
<line x1="558.6" y1="559.3" x2="558.6" y2="562.5" stroke="#000" stroke-width="1"/>
<line x1="569.7" y1="559.3" x2="569.7" y2="562.5" stroke="#000" stroke-width="1"/>
<line x1="580.7" y1="559.3" x2="580.7" y2="562.5" stroke="#000" stroke-width="1"/>
<text x="448.3" y="577.6" font-family="Liberation Sans, sans-serif" font-size="14" text-anchor="middle" fill="#111">-3</text>
<text x="470.4" y="577.6" font-family="Liberation Sans, sans-serif" font-size="14" text-anchor="middle" fill="#111">-2</text>
<text x="492.4" y="577.6" font-family="Liberation Sans, sans-serif" font-size="14" text-anchor="middle" fill="#111">-1</text>
<text x="514.5" y="577.6" font-family="Liberation Sans, sans-serif" font-size="14" text-anchor="middle" fill="#111">0</text>
<text x="536.6" y="577.6" font-family="Liberation Sans, sans-serif" font-size="14" text-anchor="middle" fill="#111">1</text>
<text x="558.6" y="577.6" font-family="Liberation Sans, sans-serif" font-size="14" text-anchor="middle" fill="#111">2</text>
<text x="580.7" y="577.6" font-family="Liberation Sans, sans-serif" font-size="14" text-anchor="middle" fill="#111">3</text>
<path d="M98.4,623.1 C99.9,615.1 102.2,609.1 105.7,609.1 C109.2,609.1 111.5,615.1 113.0,623.1Z" fill="#f0bebe" stroke="#000" stroke-width="1"/>
<path d="M30.9,685.7 C22.9,686.7 20.9,695.3 20.9,704.9 C20.9,714.5 22.9,723.1 30.9,724.1Z" fill="#f0bebe" stroke="#000" stroke-width="1"/>
<path d="M180.5,685.7 C188.5,686.7 190.5,695.3 190.5,704.9 C190.5,714.5 188.5,723.1 180.5,724.1Z" fill="#f0bebe" stroke="#000" stroke-width="1"/>
<ellipse cx="105.7" cy="704.9" rx="75.4" ry="82.8" fill="#f0bebe" stroke="#000" stroke-width="1.1"/>
<line x1="128.0" y1="635.2" x2="105.4" y2="704.9" stroke="#0808f0" stroke-width="1.2" shape-rendering="crispEdges"/>
<path d="M82.9,631.4L86.7,635.2L82.9,639.0L79.1,635.2Z" fill="#fff" stroke="#000" stroke-width="1.3" stroke-linejoin="round"/>
<path d="M128.0,631.4L131.8,635.2L128.0,639.0L124.2,635.2Z" fill="#fff" stroke="#000" stroke-width="1.3" stroke-linejoin="round"/>
<path d="M48.5,661.6L52.3,665.4L48.5,669.2L44.7,665.4Z" fill="#fff" stroke="#000" stroke-width="1.3" stroke-linejoin="round"/>
<path d="M74.2,665.9L78.0,669.7L74.2,673.5L70.4,669.7Z" fill="#fff" stroke="#000" stroke-width="1.3" stroke-linejoin="round"/>
<path d="M105.4,667.0L109.2,670.8L105.4,674.6L101.6,670.8Z" fill="#fff" stroke="#000" stroke-width="1.3" stroke-linejoin="round"/>
<path d="M136.6,665.9L140.4,669.7L136.6,673.5L132.8,669.7Z" fill="#fff" stroke="#000" stroke-width="1.3" stroke-linejoin="round"/>
<path d="M162.3,661.6L166.1,665.4L162.3,669.2L158.5,665.4Z" fill="#fff" stroke="#000" stroke-width="1.3" stroke-linejoin="round"/>
<path d="M38.7,701.1L42.5,704.9L38.7,708.7L34.9,704.9Z" fill="#fff" stroke="#000" stroke-width="1.3" stroke-linejoin="round"/>
<path d="M68.4,701.1L72.2,704.9L68.4,708.7L64.6,704.9Z" fill="#fff" stroke="#000" stroke-width="1.3" stroke-linejoin="round"/>
<path d="M105.4,701.1L109.2,704.9L105.4,708.7L101.6,704.9Z" fill="#fff" stroke="#000" stroke-width="1.3" stroke-linejoin="round"/>
<path d="M142.4,701.1L146.2,704.9L142.4,708.7L138.6,704.9Z" fill="#fff" stroke="#000" stroke-width="1.3" stroke-linejoin="round"/>
<path d="M172.2,701.1L176.0,704.9L172.2,708.7L168.3,704.9Z" fill="#fff" stroke="#000" stroke-width="1.3" stroke-linejoin="round"/>
<path d="M48.5,739.5L52.3,743.3L48.5,747.1L44.7,743.3Z" fill="#fff" stroke="#000" stroke-width="1.3" stroke-linejoin="round"/>
<path d="M74.2,735.5L78.0,739.3L74.2,743.1L70.4,739.3Z" fill="#fff" stroke="#000" stroke-width="1.3" stroke-linejoin="round"/>
<path d="M105.4,733.6L109.2,737.4L105.4,741.2L101.6,737.4Z" fill="#fff" stroke="#000" stroke-width="1.3" stroke-linejoin="round"/>
<path d="M136.6,735.5L140.4,739.3L136.6,743.1L132.8,739.3Z" fill="#fff" stroke="#000" stroke-width="1.3" stroke-linejoin="round"/>
<path d="M162.3,739.5L166.1,743.3L162.3,747.1L158.5,743.3Z" fill="#fff" stroke="#000" stroke-width="1.3" stroke-linejoin="round"/>
<path d="M82.9,769.0L86.7,772.8L82.9,776.6L79.1,772.8Z" fill="#fff" stroke="#000" stroke-width="1.3" stroke-linejoin="round"/>
<path d="M128.0,769.0L131.8,772.8L128.0,776.6L124.2,772.8Z" fill="#fff" stroke="#000" stroke-width="1.3" stroke-linejoin="round"/>
<path d="M302.4,623.1 C303.9,615.1 306.2,609.1 309.7,609.1 C313.2,609.1 315.5,615.1 317.0,623.1Z" fill="#f0bebe" stroke="#000" stroke-width="1"/>
<path d="M234.9,685.7 C226.9,686.7 224.9,695.3 224.9,704.9 C224.9,714.5 226.9,723.1 234.9,724.1Z" fill="#f0bebe" stroke="#000" stroke-width="1"/>
<path d="M384.5,685.7 C392.5,686.7 394.5,695.3 394.5,704.9 C394.5,714.5 392.5,723.1 384.5,724.1Z" fill="#f0bebe" stroke="#000" stroke-width="1"/>
<ellipse cx="309.7" cy="704.9" rx="75.4" ry="82.8" fill="#f0bebe" stroke="#000" stroke-width="1.1"/>
<line x1="366.3" y1="665.4" x2="272.4" y2="704.9" stroke="#f00808" stroke-width="1" shape-rendering="crispEdges"/>
<line x1="366.3" y1="665.4" x2="252.5" y2="743.3" stroke="#f00808" stroke-width="1" shape-rendering="crispEdges"/>
<line x1="366.3" y1="665.4" x2="278.2" y2="739.3" stroke="#f00808" stroke-width="1" shape-rendering="crispEdges"/>
<line x1="366.3" y1="665.4" x2="331.9" y2="772.8" stroke="#f00808" stroke-width="1.2" shape-rendering="crispEdges"/>
<line x1="366.3" y1="665.4" x2="309.4" y2="704.9" stroke="#f00808" stroke-width="1" shape-rendering="crispEdges"/>
<line x1="286.8" y1="635.2" x2="252.5" y2="665.4" stroke="#0808f0" stroke-width="3.5"/>
<line x1="286.8" y1="635.2" x2="272.4" y2="704.9" stroke="#0808f0" stroke-width="3.2"/>
<line x1="286.8" y1="635.2" x2="346.4" y2="704.9" stroke="#0808f0" stroke-width="3.0"/>
<line x1="278.2" y1="669.7" x2="252.5" y2="743.3" stroke="#0808f0" stroke-width="3.2"/>
<line x1="272.4" y1="704.9" x2="340.6" y2="669.7" stroke="#0808f0" stroke-width="3.2"/>
<line x1="272.4" y1="704.9" x2="331.9" y2="635.2" stroke="#0808f0" stroke-width="2.8"/>
<line x1="331.9" y1="635.2" x2="331.9" y2="772.8" stroke="#0808f0" stroke-width="2.5"/>
<line x1="331.9" y1="635.2" x2="346.4" y2="704.9" stroke="#0808f0" stroke-width="1.8"/>
<line x1="252.5" y1="743.3" x2="272.4" y2="704.9" stroke="#0808f0" stroke-width="1.8"/>
<line x1="331.9" y1="635.2" x2="278.2" y2="669.7" stroke="#0808f0" stroke-width="1.5"/>
<line x1="286.8" y1="635.2" x2="278.2" y2="669.7" stroke="#0808f0" stroke-width="1.5"/>
<line x1="286.8" y1="635.2" x2="309.4" y2="670.8" stroke="#0808f0" stroke-width="1.2" shape-rendering="crispEdges"/>
<line x1="331.9" y1="635.2" x2="309.4" y2="670.8" stroke="#0808f0" stroke-width="1.2" shape-rendering="crispEdges"/>
<line x1="286.8" y1="635.2" x2="309.4" y2="704.9" stroke="#0808f0" stroke-width="1.2" shape-rendering="crispEdges"/>
<line x1="286.8" y1="635.2" x2="242.6" y2="704.9" stroke="#0808f0" stroke-width="1" shape-rendering="crispEdges"/>
<line x1="331.9" y1="635.2" x2="252.5" y2="665.4" stroke="#0808f0" stroke-width="1" shape-rendering="crispEdges"/>
<line x1="286.8" y1="635.2" x2="309.4" y2="737.4" stroke="#0808f0" stroke-width="1" shape-rendering="crispEdges"/>
<line x1="286.8" y1="635.2" x2="340.6" y2="739.3" stroke="#0808f0" stroke-width="1" shape-rendering="crispEdges"/>
<line x1="278.2" y1="669.7" x2="346.4" y2="704.9" stroke="#0808f0" stroke-width="1" shape-rendering="crispEdges"/>
<line x1="252.5" y1="743.3" x2="309.4" y2="670.8" stroke="#0808f0" stroke-width="1" shape-rendering="crispEdges"/>
<line x1="252.5" y1="743.3" x2="340.6" y2="669.7" stroke="#0808f0" stroke-width="1" shape-rendering="crispEdges"/>
<line x1="252.5" y1="743.3" x2="309.4" y2="704.9" stroke="#0808f0" stroke-width="1" shape-rendering="crispEdges"/>
<line x1="252.5" y1="743.3" x2="331.9" y2="635.2" stroke="#0808f0" stroke-width="1" shape-rendering="crispEdges"/>
<line x1="331.9" y1="772.8" x2="309.4" y2="670.8" stroke="#0808f0" stroke-width="1" shape-rendering="crispEdges"/>
<line x1="366.3" y1="743.3" x2="331.9" y2="635.2" stroke="#0808f0" stroke-width="1" shape-rendering="crispEdges"/>
<line x1="286.8" y1="635.2" x2="366.3" y2="743.3" stroke="#0808f0" stroke-width="1" shape-rendering="crispEdges"/>
<line x1="278.2" y1="739.3" x2="340.6" y2="669.7" stroke="#0808f0" stroke-width="1" shape-rendering="crispEdges"/>
<line x1="278.2" y1="739.3" x2="331.9" y2="635.2" stroke="#0808f0" stroke-width="1" shape-rendering="crispEdges"/>
<line x1="340.6" y1="669.7" x2="340.6" y2="739.3" stroke="#0808f0" stroke-width="1.2" shape-rendering="crispEdges"/>
<line x1="278.2" y1="739.3" x2="309.4" y2="670.8" stroke="#0808f0" stroke-width="1" shape-rendering="crispEdges"/>
<path d="M286.8,631.4L290.6,635.2L286.8,639.0L283.0,635.2Z" fill="#fff" stroke="#000" stroke-width="1.3" stroke-linejoin="round"/>
<path d="M331.9,631.4L335.8,635.2L331.9,639.0L328.1,635.2Z" fill="#fff" stroke="#000" stroke-width="1.3" stroke-linejoin="round"/>
<path d="M252.5,661.6L256.3,665.4L252.5,669.2L248.7,665.4Z" fill="#fff" stroke="#000" stroke-width="1.3" stroke-linejoin="round"/>
<path d="M278.2,665.9L282.0,669.7L278.2,673.5L274.4,669.7Z" fill="#fff" stroke="#000" stroke-width="1.3" stroke-linejoin="round"/>
<path d="M309.4,667.0L313.2,670.8L309.4,674.6L305.6,670.8Z" fill="#fff" stroke="#000" stroke-width="1.3" stroke-linejoin="round"/>
<path d="M340.6,665.9L344.4,669.7L340.6,673.5L336.8,669.7Z" fill="#fff" stroke="#000" stroke-width="1.3" stroke-linejoin="round"/>
<path d="M366.3,661.6L370.1,665.4L366.3,669.2L362.5,665.4Z" fill="#fff" stroke="#000" stroke-width="1.3" stroke-linejoin="round"/>
<path d="M242.6,701.1L246.4,704.9L242.6,708.7L238.8,704.9Z" fill="#fff" stroke="#000" stroke-width="1.3" stroke-linejoin="round"/>
<path d="M272.4,701.1L276.2,704.9L272.4,708.7L268.6,704.9Z" fill="#fff" stroke="#000" stroke-width="1.3" stroke-linejoin="round"/>
<path d="M309.4,701.1L313.2,704.9L309.4,708.7L305.6,704.9Z" fill="#fff" stroke="#000" stroke-width="1.3" stroke-linejoin="round"/>
<path d="M346.4,701.1L350.2,704.9L346.4,708.7L342.6,704.9Z" fill="#fff" stroke="#000" stroke-width="1.3" stroke-linejoin="round"/>
<path d="M376.1,701.1L379.9,704.9L376.1,708.7L372.3,704.9Z" fill="#fff" stroke="#000" stroke-width="1.3" stroke-linejoin="round"/>
<path d="M252.5,739.5L256.3,743.3L252.5,747.1L248.7,743.3Z" fill="#fff" stroke="#000" stroke-width="1.3" stroke-linejoin="round"/>
<path d="M278.2,735.5L282.0,739.3L278.2,743.1L274.4,739.3Z" fill="#fff" stroke="#000" stroke-width="1.3" stroke-linejoin="round"/>
<path d="M309.4,733.6L313.2,737.4L309.4,741.2L305.6,737.4Z" fill="#fff" stroke="#000" stroke-width="1.3" stroke-linejoin="round"/>
<path d="M340.6,735.5L344.4,739.3L340.6,743.1L336.8,739.3Z" fill="#fff" stroke="#000" stroke-width="1.3" stroke-linejoin="round"/>
<path d="M366.3,739.5L370.1,743.3L366.3,747.1L362.5,743.3Z" fill="#fff" stroke="#000" stroke-width="1.3" stroke-linejoin="round"/>
<path d="M286.8,769.0L290.6,772.8L286.8,776.6L283.0,772.8Z" fill="#fff" stroke="#000" stroke-width="1.3" stroke-linejoin="round"/>
<path d="M331.9,769.0L335.8,772.8L331.9,776.6L328.1,772.8Z" fill="#fff" stroke="#000" stroke-width="1.3" stroke-linejoin="round"/>
<path d="M506.4,623.1 C507.9,615.1 510.2,609.1 513.7,609.1 C517.2,609.1 519.5,615.1 521.0,623.1Z" fill="#f0bebe" stroke="#000" stroke-width="1"/>
<path d="M438.9,685.7 C430.9,686.7 428.9,695.3 428.9,704.9 C428.9,714.5 430.9,723.1 438.9,724.1Z" fill="#f0bebe" stroke="#000" stroke-width="1"/>
<path d="M588.5,685.7 C596.5,686.7 598.5,695.3 598.5,704.9 C598.5,714.5 596.5,723.1 588.5,724.1Z" fill="#f0bebe" stroke="#000" stroke-width="1"/>
<ellipse cx="513.7" cy="704.9" rx="75.4" ry="82.8" fill="#f0bebe" stroke="#000" stroke-width="1.1"/>
<path d="M446.6,704.9Q513.4,687.9 580.1,704.9" fill="none" stroke="#f00808" stroke-width="3.2"/>
<line x1="550.4" y1="704.9" x2="580.1" y2="704.9" stroke="#f00808" stroke-width="3.0"/>
<line x1="570.3" y1="665.4" x2="550.4" y2="704.9" stroke="#f00808" stroke-width="2.5"/>
<line x1="456.5" y1="665.4" x2="550.4" y2="704.9" stroke="#f00808" stroke-width="1" shape-rendering="crispEdges"/>
<line x1="570.3" y1="665.4" x2="476.4" y2="704.9" stroke="#f00808" stroke-width="1" shape-rendering="crispEdges"/>
<line x1="456.5" y1="743.3" x2="580.1" y2="704.9" stroke="#f00808" stroke-width="1.2" shape-rendering="crispEdges"/>
<line x1="456.5" y1="743.3" x2="550.4" y2="704.9" stroke="#f00808" stroke-width="1.2" shape-rendering="crispEdges"/>
<line x1="550.4" y1="704.9" x2="570.3" y2="743.3" stroke="#f00808" stroke-width="1" shape-rendering="crispEdges"/>
<line x1="456.5" y1="665.4" x2="580.1" y2="704.9" stroke="#f00808" stroke-width="1" shape-rendering="crispEdges"/>
<line x1="490.8" y1="635.2" x2="550.4" y2="704.9" stroke="#0808f0" stroke-width="2.8"/>
<line x1="490.8" y1="635.2" x2="476.4" y2="704.9" stroke="#0808f0" stroke-width="2.0"/>
<line x1="490.8" y1="635.2" x2="513.4" y2="704.9" stroke="#0808f0" stroke-width="2.0"/>
<line x1="535.9" y1="635.2" x2="476.4" y2="704.9" stroke="#0808f0" stroke-width="2.0"/>
<line x1="535.9" y1="635.2" x2="550.4" y2="704.9" stroke="#0808f0" stroke-width="2.5"/>
<path d="M513.4,704.9Q546.8,692.9 580.1,704.9" fill="none" stroke="#0808f0" stroke-width="3.2"/>
<line x1="490.8" y1="635.2" x2="482.2" y2="669.7" stroke="#0808f0" stroke-width="1.5"/>
<line x1="535.9" y1="635.2" x2="513.4" y2="670.8" stroke="#0808f0" stroke-width="1.5"/>
<line x1="490.8" y1="635.2" x2="456.5" y2="665.4" stroke="#0808f0" stroke-width="1" shape-rendering="crispEdges"/>
<line x1="490.8" y1="635.2" x2="544.6" y2="669.7" stroke="#0808f0" stroke-width="1" shape-rendering="crispEdges"/>
<line x1="490.8" y1="635.2" x2="446.6" y2="704.9" stroke="#0808f0" stroke-width="1" shape-rendering="crispEdges"/>
<line x1="490.8" y1="635.2" x2="456.5" y2="743.3" stroke="#0808f0" stroke-width="1" shape-rendering="crispEdges"/>
<line x1="535.9" y1="635.2" x2="482.2" y2="669.7" stroke="#0808f0" stroke-width="1" shape-rendering="crispEdges"/>
<line x1="535.9" y1="635.2" x2="446.6" y2="704.9" stroke="#0808f0" stroke-width="1" shape-rendering="crispEdges"/>
<line x1="513.4" y1="670.8" x2="513.4" y2="737.4" stroke="#0808f0" stroke-width="1" shape-rendering="crispEdges"/>
<line x1="513.4" y1="704.9" x2="570.3" y2="743.3" stroke="#0808f0" stroke-width="1" shape-rendering="crispEdges"/>
<line x1="482.2" y1="669.7" x2="446.6" y2="704.9" stroke="#0808f0" stroke-width="1" shape-rendering="crispEdges"/>
<line x1="476.4" y1="704.9" x2="456.5" y2="743.3" stroke="#0808f0" stroke-width="1" shape-rendering="crispEdges"/>
<line x1="544.6" y1="669.7" x2="570.3" y2="743.3" stroke="#0808f0" stroke-width="1" shape-rendering="crispEdges"/>
<line x1="482.2" y1="669.7" x2="550.4" y2="704.9" stroke="#0808f0" stroke-width="1" shape-rendering="crispEdges"/>
<line x1="456.5" y1="665.4" x2="513.4" y2="704.9" stroke="#0808f0" stroke-width="1" shape-rendering="crispEdges"/>
<path d="M490.8,631.4L494.6,635.2L490.8,639.0L487.0,635.2Z" fill="#fff" stroke="#000" stroke-width="1.3" stroke-linejoin="round"/>
<path d="M535.9,631.4L539.7,635.2L535.9,639.0L532.1,635.2Z" fill="#fff" stroke="#000" stroke-width="1.3" stroke-linejoin="round"/>
<path d="M456.5,661.6L460.3,665.4L456.5,669.2L452.7,665.4Z" fill="#fff" stroke="#000" stroke-width="1.3" stroke-linejoin="round"/>
<path d="M482.2,665.9L486.0,669.7L482.2,673.5L478.4,669.7Z" fill="#fff" stroke="#000" stroke-width="1.3" stroke-linejoin="round"/>
<path d="M513.4,667.0L517.2,670.8L513.4,674.6L509.6,670.8Z" fill="#fff" stroke="#000" stroke-width="1.3" stroke-linejoin="round"/>
<path d="M544.6,665.9L548.4,669.7L544.6,673.5L540.8,669.7Z" fill="#fff" stroke="#000" stroke-width="1.3" stroke-linejoin="round"/>
<path d="M570.3,661.6L574.1,665.4L570.3,669.2L566.5,665.4Z" fill="#fff" stroke="#000" stroke-width="1.3" stroke-linejoin="round"/>
<path d="M446.6,701.1L450.4,704.9L446.6,708.7L442.8,704.9Z" fill="#fff" stroke="#000" stroke-width="1.3" stroke-linejoin="round"/>
<path d="M476.4,701.1L480.2,704.9L476.4,708.7L472.6,704.9Z" fill="#fff" stroke="#000" stroke-width="1.3" stroke-linejoin="round"/>
<path d="M513.4,701.1L517.2,704.9L513.4,708.7L509.6,704.9Z" fill="#fff" stroke="#000" stroke-width="1.3" stroke-linejoin="round"/>
<path d="M550.4,701.1L554.2,704.9L550.4,708.7L546.6,704.9Z" fill="#fff" stroke="#000" stroke-width="1.3" stroke-linejoin="round"/>
<path d="M580.1,701.1L583.9,704.9L580.1,708.7L576.4,704.9Z" fill="#fff" stroke="#000" stroke-width="1.3" stroke-linejoin="round"/>
<path d="M456.5,739.5L460.3,743.3L456.5,747.1L452.7,743.3Z" fill="#fff" stroke="#000" stroke-width="1.3" stroke-linejoin="round"/>
<path d="M482.2,735.5L486.0,739.3L482.2,743.1L478.4,739.3Z" fill="#fff" stroke="#000" stroke-width="1.3" stroke-linejoin="round"/>
<path d="M513.4,733.6L517.2,737.4L513.4,741.2L509.6,737.4Z" fill="#fff" stroke="#000" stroke-width="1.3" stroke-linejoin="round"/>
<path d="M544.6,735.5L548.4,739.3L544.6,743.1L540.8,739.3Z" fill="#fff" stroke="#000" stroke-width="1.3" stroke-linejoin="round"/>
<path d="M570.3,739.5L574.1,743.3L570.3,747.1L566.5,743.3Z" fill="#fff" stroke="#000" stroke-width="1.3" stroke-linejoin="round"/>
<path d="M490.8,769.0L494.6,772.8L490.8,776.6L487.0,772.8Z" fill="#fff" stroke="#000" stroke-width="1.3" stroke-linejoin="round"/>
<path d="M535.9,769.0L539.7,772.8L535.9,776.6L532.1,772.8Z" fill="#fff" stroke="#000" stroke-width="1.3" stroke-linejoin="round"/>
<path d="M710.4,623.1 C711.9,615.1 714.2,609.1 717.7,609.1 C721.2,609.1 723.5,615.1 725.0,623.1Z" fill="#f0bebe" stroke="#000" stroke-width="1"/>
<path d="M642.9,685.7 C634.9,686.7 632.9,695.3 632.9,704.9 C632.9,714.5 634.9,723.1 642.9,724.1Z" fill="#f0bebe" stroke="#000" stroke-width="1"/>
<path d="M792.5,685.7 C800.5,686.7 802.5,695.3 802.5,704.9 C802.5,714.5 800.5,723.1 792.5,724.1Z" fill="#f0bebe" stroke="#000" stroke-width="1"/>
<ellipse cx="717.7" cy="704.9" rx="75.4" ry="82.8" fill="#f0bebe" stroke="#000" stroke-width="1.1"/>
<line x1="660.5" y1="665.4" x2="739.9" y2="772.8" stroke="#f00808" stroke-width="2"/>
<line x1="660.5" y1="665.4" x2="686.2" y2="739.3" stroke="#f00808" stroke-width="1.8"/>
<line x1="660.5" y1="665.4" x2="694.9" y2="772.8" stroke="#f00808" stroke-width="1" shape-rendering="crispEdges"/>
<line x1="774.3" y1="665.4" x2="694.9" y2="772.8" stroke="#f00808" stroke-width="1" shape-rendering="crispEdges"/>
<line x1="774.3" y1="665.4" x2="739.9" y2="772.8" stroke="#f00808" stroke-width="1" shape-rendering="crispEdges"/>
<line x1="774.3" y1="665.4" x2="748.6" y2="739.3" stroke="#f00808" stroke-width="1" shape-rendering="crispEdges"/>
<line x1="650.6" y1="704.9" x2="694.9" y2="772.8" stroke="#f00808" stroke-width="1" shape-rendering="crispEdges"/>
<line x1="650.6" y1="704.9" x2="739.9" y2="772.8" stroke="#f00808" stroke-width="1" shape-rendering="crispEdges"/>
<line x1="650.6" y1="704.9" x2="748.6" y2="739.3" stroke="#f00808" stroke-width="1" shape-rendering="crispEdges"/>
<line x1="784.1" y1="704.9" x2="694.9" y2="772.8" stroke="#f00808" stroke-width="1" shape-rendering="crispEdges"/>
<line x1="784.1" y1="704.9" x2="739.9" y2="772.8" stroke="#f00808" stroke-width="1" shape-rendering="crispEdges"/>
<line x1="784.1" y1="704.9" x2="686.2" y2="739.3" stroke="#f00808" stroke-width="1" shape-rendering="crispEdges"/>
<line x1="680.4" y1="704.9" x2="739.9" y2="772.8" stroke="#f00808" stroke-width="1" shape-rendering="crispEdges"/>
<line x1="754.4" y1="704.9" x2="694.9" y2="772.8" stroke="#f00808" stroke-width="1" shape-rendering="crispEdges"/>
<line x1="774.3" y1="743.3" x2="694.9" y2="772.8" stroke="#f00808" stroke-width="1" shape-rendering="crispEdges"/>
<line x1="660.5" y1="743.3" x2="739.9" y2="772.8" stroke="#f00808" stroke-width="1" shape-rendering="crispEdges"/>
<line x1="650.6" y1="704.9" x2="717.4" y2="737.4" stroke="#f00808" stroke-width="1" shape-rendering="crispEdges"/>
<line x1="784.1" y1="704.9" x2="717.4" y2="737.4" stroke="#f00808" stroke-width="1" shape-rendering="crispEdges"/>
<line x1="774.3" y1="665.4" x2="660.5" y2="743.3" stroke="#f00808" stroke-width="1" shape-rendering="crispEdges"/>
<line x1="784.1" y1="704.9" x2="660.5" y2="743.3" stroke="#f00808" stroke-width="1" shape-rendering="crispEdges"/>
<line x1="660.5" y1="665.4" x2="717.4" y2="704.9" stroke="#0808f0" stroke-width="4"/>
<line x1="774.3" y1="665.4" x2="717.4" y2="704.9" stroke="#0808f0" stroke-width="4"/>
<path d="M650.6,704.9Q684.0,692.9 717.4,704.9" fill="none" stroke="#0808f0" stroke-width="3.5"/>
<path d="M784.1,704.9Q750.8,692.9 717.4,704.9" fill="none" stroke="#0808f0" stroke-width="3.5"/>
<line x1="694.9" y1="635.2" x2="694.9" y2="772.8" stroke="#0808f0" stroke-width="1.8"/>
<line x1="739.9" y1="635.2" x2="739.9" y2="772.8" stroke="#0808f0" stroke-width="1.8"/>
<line x1="660.5" y1="665.4" x2="660.5" y2="743.3" stroke="#0808f0" stroke-width="1.5"/>
<line x1="694.9" y1="635.2" x2="717.4" y2="704.9" stroke="#0808f0" stroke-width="1.5"/>
<line x1="739.9" y1="635.2" x2="717.4" y2="704.9" stroke="#0808f0" stroke-width="1.5"/>
<line x1="717.4" y1="704.9" x2="717.4" y2="737.4" stroke="#0808f0" stroke-width="2.2"/>
<line x1="660.5" y1="665.4" x2="774.3" y2="665.4" stroke="#0808f0" stroke-width="1" shape-rendering="crispEdges"/>
<line x1="694.9" y1="635.2" x2="717.4" y2="737.4" stroke="#0808f0" stroke-width="1" shape-rendering="crispEdges"/>
<line x1="694.9" y1="635.2" x2="754.4" y2="704.9" stroke="#0808f0" stroke-width="1" shape-rendering="crispEdges"/>
<line x1="694.9" y1="635.2" x2="748.6" y2="739.3" stroke="#0808f0" stroke-width="1" shape-rendering="crispEdges"/>
<line x1="694.9" y1="635.2" x2="717.4" y2="670.8" stroke="#0808f0" stroke-width="1" shape-rendering="crispEdges"/>
<line x1="739.9" y1="635.2" x2="680.4" y2="704.9" stroke="#0808f0" stroke-width="1" shape-rendering="crispEdges"/>
<line x1="739.9" y1="635.2" x2="686.2" y2="739.3" stroke="#0808f0" stroke-width="1" shape-rendering="crispEdges"/>
<line x1="739.9" y1="635.2" x2="686.2" y2="669.7" stroke="#0808f0" stroke-width="1" shape-rendering="crispEdges"/>
<line x1="739.9" y1="635.2" x2="717.4" y2="670.8" stroke="#0808f0" stroke-width="1" shape-rendering="crispEdges"/>
<line x1="739.9" y1="635.2" x2="717.4" y2="737.4" stroke="#0808f0" stroke-width="1" shape-rendering="crispEdges"/>
<line x1="660.5" y1="743.3" x2="717.4" y2="670.8" stroke="#0808f0" stroke-width="1" shape-rendering="crispEdges"/>
<line x1="686.2" y1="669.7" x2="717.4" y2="737.4" stroke="#0808f0" stroke-width="1" shape-rendering="crispEdges"/>
<line x1="748.6" y1="669.7" x2="717.4" y2="737.4" stroke="#0808f0" stroke-width="1" shape-rendering="crispEdges"/>
<line x1="694.9" y1="635.2" x2="748.6" y2="669.7" stroke="#0808f0" stroke-width="1" shape-rendering="crispEdges"/>
<line x1="739.9" y1="635.2" x2="660.5" y2="665.4" stroke="#0808f0" stroke-width="1" shape-rendering="crispEdges"/>
<line x1="694.9" y1="772.8" x2="717.4" y2="704.9" stroke="#0808f0" stroke-width="1" shape-rendering="crispEdges"/>
<line x1="694.9" y1="772.8" x2="717.4" y2="670.8" stroke="#0808f0" stroke-width="1" shape-rendering="crispEdges"/>
<line x1="694.9" y1="635.2" x2="784.1" y2="704.9" stroke="#0808f0" stroke-width="1" shape-rendering="crispEdges"/>
<line x1="739.9" y1="635.2" x2="650.6" y2="704.9" stroke="#0808f0" stroke-width="1" shape-rendering="crispEdges"/>
<line x1="717.4" y1="704.9" x2="739.9" y2="772.8" stroke="#0808f0" stroke-width="1.2" shape-rendering="crispEdges"/>
<line x1="686.2" y1="669.7" x2="748.6" y2="669.7" stroke="#0808f0" stroke-width="1" shape-rendering="crispEdges"/>
<path d="M694.9,631.4L698.6,635.2L694.9,639.0L691.1,635.2Z" fill="#fff" stroke="#000" stroke-width="1.3" stroke-linejoin="round"/>
<path d="M739.9,631.4L743.7,635.2L739.9,639.0L736.1,635.2Z" fill="#fff" stroke="#000" stroke-width="1.3" stroke-linejoin="round"/>
<path d="M660.5,661.6L664.3,665.4L660.5,669.2L656.7,665.4Z" fill="#fff" stroke="#000" stroke-width="1.3" stroke-linejoin="round"/>
<path d="M686.2,665.9L690.0,669.7L686.2,673.5L682.4,669.7Z" fill="#fff" stroke="#000" stroke-width="1.3" stroke-linejoin="round"/>
<path d="M717.4,667.0L721.2,670.8L717.4,674.6L713.6,670.8Z" fill="#fff" stroke="#000" stroke-width="1.3" stroke-linejoin="round"/>
<path d="M748.6,665.9L752.4,669.7L748.6,673.5L744.8,669.7Z" fill="#fff" stroke="#000" stroke-width="1.3" stroke-linejoin="round"/>
<path d="M774.3,661.6L778.1,665.4L774.3,669.2L770.5,665.4Z" fill="#fff" stroke="#000" stroke-width="1.3" stroke-linejoin="round"/>
<path d="M650.6,701.1L654.4,704.9L650.6,708.7L646.9,704.9Z" fill="#fff" stroke="#000" stroke-width="1.3" stroke-linejoin="round"/>
<path d="M680.4,701.1L684.2,704.9L680.4,708.7L676.6,704.9Z" fill="#fff" stroke="#000" stroke-width="1.3" stroke-linejoin="round"/>
<path d="M717.4,701.1L721.2,704.9L717.4,708.7L713.6,704.9Z" fill="#fff" stroke="#000" stroke-width="1.3" stroke-linejoin="round"/>
<path d="M754.4,701.1L758.2,704.9L754.4,708.7L750.6,704.9Z" fill="#fff" stroke="#000" stroke-width="1.3" stroke-linejoin="round"/>
<path d="M784.1,701.1L787.9,704.9L784.1,708.7L780.4,704.9Z" fill="#fff" stroke="#000" stroke-width="1.3" stroke-linejoin="round"/>
<path d="M660.5,739.5L664.3,743.3L660.5,747.1L656.7,743.3Z" fill="#fff" stroke="#000" stroke-width="1.3" stroke-linejoin="round"/>
<path d="M686.2,735.5L690.0,739.3L686.2,743.1L682.4,739.3Z" fill="#fff" stroke="#000" stroke-width="1.3" stroke-linejoin="round"/>
<path d="M717.4,733.6L721.2,737.4L717.4,741.2L713.6,737.4Z" fill="#fff" stroke="#000" stroke-width="1.3" stroke-linejoin="round"/>
<path d="M748.6,735.5L752.4,739.3L748.6,743.1L744.8,739.3Z" fill="#fff" stroke="#000" stroke-width="1.3" stroke-linejoin="round"/>
<path d="M774.3,739.5L778.1,743.3L774.3,747.1L770.5,743.3Z" fill="#fff" stroke="#000" stroke-width="1.3" stroke-linejoin="round"/>
<path d="M694.9,769.0L698.6,772.8L694.9,776.6L691.1,772.8Z" fill="#fff" stroke="#000" stroke-width="1.3" stroke-linejoin="round"/>
<path d="M739.9,769.0L743.7,772.8L739.9,776.6L736.1,772.8Z" fill="#fff" stroke="#000" stroke-width="1.3" stroke-linejoin="round"/>
<path d="M914.4,623.1 C915.9,615.1 918.2,609.1 921.7,609.1 C925.2,609.1 927.5,615.1 929.0,623.1Z" fill="#f0bebe" stroke="#000" stroke-width="1"/>
<path d="M846.9,685.7 C838.9,686.7 836.9,695.3 836.9,704.9 C836.9,714.5 838.9,723.1 846.9,724.1Z" fill="#f0bebe" stroke="#000" stroke-width="1"/>
<path d="M996.5,685.7 C1004.5,686.7 1006.5,695.3 1006.5,704.9 C1006.5,714.5 1004.5,723.1 996.5,724.1Z" fill="#f0bebe" stroke="#000" stroke-width="1"/>
<ellipse cx="921.7" cy="704.9" rx="75.4" ry="82.8" fill="#f0bebe" stroke="#000" stroke-width="1.1"/>
<line x1="864.5" y1="665.4" x2="958.4" y2="704.9" stroke="#f00808" stroke-width="1" shape-rendering="crispEdges"/>
<line x1="864.5" y1="665.4" x2="890.2" y2="739.3" stroke="#f00808" stroke-width="2.0"/>
<line x1="890.2" y1="739.3" x2="898.9" y2="772.8" stroke="#f00808" stroke-width="1" shape-rendering="crispEdges"/>
<line x1="898.9" y1="635.2" x2="898.9" y2="772.8" stroke="#0808f0" stroke-width="2.0"/>
<line x1="898.9" y1="635.2" x2="890.2" y2="739.3" stroke="#0808f0" stroke-width="1.2" shape-rendering="crispEdges"/>
<line x1="898.9" y1="635.2" x2="943.9" y2="772.8" stroke="#0808f0" stroke-width="1" shape-rendering="crispEdges"/>
<line x1="898.9" y1="635.2" x2="958.4" y2="704.9" stroke="#0808f0" stroke-width="1" shape-rendering="crispEdges"/>
<line x1="864.5" y1="665.4" x2="864.5" y2="743.3" stroke="#0808f0" stroke-width="1.2" shape-rendering="crispEdges"/>
<line x1="864.5" y1="665.4" x2="921.4" y2="704.9" stroke="#0808f0" stroke-width="1" shape-rendering="crispEdges"/>
<path d="M898.9,631.4L902.6,635.2L898.9,639.0L895.1,635.2Z" fill="#fff" stroke="#000" stroke-width="1.3" stroke-linejoin="round"/>
<path d="M943.9,631.4L947.7,635.2L943.9,639.0L940.1,635.2Z" fill="#fff" stroke="#000" stroke-width="1.3" stroke-linejoin="round"/>
<path d="M864.5,661.6L868.3,665.4L864.5,669.2L860.7,665.4Z" fill="#fff" stroke="#000" stroke-width="1.3" stroke-linejoin="round"/>
<path d="M890.2,665.9L894.0,669.7L890.2,673.5L886.4,669.7Z" fill="#fff" stroke="#000" stroke-width="1.3" stroke-linejoin="round"/>
<path d="M921.4,667.0L925.2,670.8L921.4,674.6L917.6,670.8Z" fill="#fff" stroke="#000" stroke-width="1.3" stroke-linejoin="round"/>
<path d="M952.6,665.9L956.4,669.7L952.6,673.5L948.8,669.7Z" fill="#fff" stroke="#000" stroke-width="1.3" stroke-linejoin="round"/>
<path d="M978.3,661.6L982.1,665.4L978.3,669.2L974.5,665.4Z" fill="#fff" stroke="#000" stroke-width="1.3" stroke-linejoin="round"/>
<path d="M854.6,701.1L858.4,704.9L854.6,708.7L850.9,704.9Z" fill="#fff" stroke="#000" stroke-width="1.3" stroke-linejoin="round"/>
<path d="M884.4,701.1L888.2,704.9L884.4,708.7L880.6,704.9Z" fill="#fff" stroke="#000" stroke-width="1.3" stroke-linejoin="round"/>
<path d="M921.4,701.1L925.2,704.9L921.4,708.7L917.6,704.9Z" fill="#fff" stroke="#000" stroke-width="1.3" stroke-linejoin="round"/>
<path d="M958.4,701.1L962.2,704.9L958.4,708.7L954.6,704.9Z" fill="#fff" stroke="#000" stroke-width="1.3" stroke-linejoin="round"/>
<path d="M988.1,701.1L991.9,704.9L988.1,708.7L984.4,704.9Z" fill="#fff" stroke="#000" stroke-width="1.3" stroke-linejoin="round"/>
<path d="M864.5,739.5L868.3,743.3L864.5,747.1L860.7,743.3Z" fill="#fff" stroke="#000" stroke-width="1.3" stroke-linejoin="round"/>
<path d="M890.2,735.5L894.0,739.3L890.2,743.1L886.4,739.3Z" fill="#fff" stroke="#000" stroke-width="1.3" stroke-linejoin="round"/>
<path d="M921.4,733.6L925.2,737.4L921.4,741.2L917.6,737.4Z" fill="#fff" stroke="#000" stroke-width="1.3" stroke-linejoin="round"/>
<path d="M952.6,735.5L956.4,739.3L952.6,743.1L948.8,739.3Z" fill="#fff" stroke="#000" stroke-width="1.3" stroke-linejoin="round"/>
<path d="M978.3,739.5L982.1,743.3L978.3,747.1L974.5,743.3Z" fill="#fff" stroke="#000" stroke-width="1.3" stroke-linejoin="round"/>
<path d="M898.9,769.0L902.6,772.8L898.9,776.6L895.1,772.8Z" fill="#fff" stroke="#000" stroke-width="1.3" stroke-linejoin="round"/>
<path d="M943.9,769.0L947.7,772.8L943.9,776.6L940.1,772.8Z" fill="#fff" stroke="#000" stroke-width="1.3" stroke-linejoin="round"/>
<rect x="112.0" y="801.2" width="110.2" height="1.7" fill="#202098"/>
<rect x="222.2" y="801.2" width="109.6" height="1.7" fill="#a82830"/>
<rect x="101.1" y="802.7" width="5.8" height="1.8" fill="#111"/>
<rect x="338.8" y="801.3" width="9.4" height="1.8" fill="#111"/>
<rect x="342.6" y="797.3" width="1.8" height="9.7" fill="#111"/>
<text x="169.1" y="823.7" font-family="Liberation Sans, sans-serif" font-size="13.4" textLength="105.9" lengthAdjust="spacingAndGlyphs" fill="#1a1a1a">Z-Score &gt;= 1.96</text>
<rect x="406.0" y="799.9" width="109.9" height="2.9" fill="#0a0ad8"/>
<rect x="515.9" y="799.9" width="110.0" height="2.9" fill="#e00a0a"/>
<rect x="394.4" y="802.7" width="5.5" height="1.8" fill="#111"/>
<rect x="630.8" y="801.3" width="9.4" height="1.8" fill="#111"/>
<rect x="634.6" y="797.3" width="1.8" height="9.7" fill="#111"/>
<text x="461.1" y="823.7" font-family="Liberation Sans, sans-serif" font-size="13.4" textLength="104.3" lengthAdjust="spacingAndGlyphs" fill="#1a1a1a">Z-Score &gt;= 2.58</text>
<rect x="696.7" y="799.9" width="109.2" height="4.4" fill="#0a0ad8"/>
<rect x="805.9" y="799.9" width="114.1" height="4.4" fill="#e00a0a"/>
<rect x="686.3" y="802.7" width="5.6" height="1.8" fill="#111"/>
<rect x="923.9" y="801.3" width="9.4" height="1.8" fill="#111"/>
<rect x="927.7" y="797.3" width="1.8" height="9.7" fill="#111"/>
<text x="753.1" y="823.7" font-family="Liberation Sans, sans-serif" font-size="13.4" textLength="105.4" lengthAdjust="spacingAndGlyphs" fill="#1a1a1a">Z-Score &gt;= 3.09</text>
</svg>
</body></html>
